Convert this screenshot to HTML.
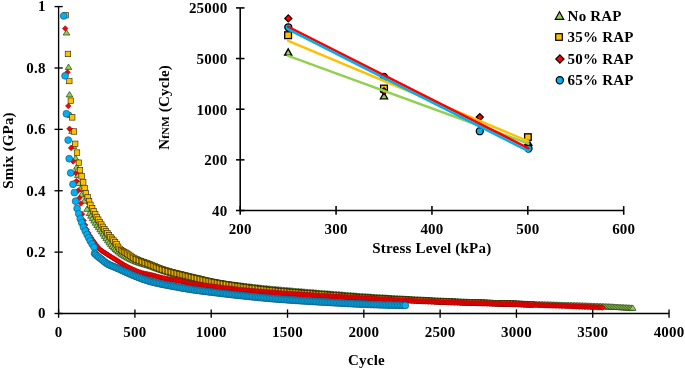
<!DOCTYPE html>
<html><head><meta charset="utf-8"><style>
html,body{margin:0;padding:0;background:#fff;width:685px;height:368px;overflow:hidden}
svg{display:block;will-change:transform}
text{font-family:"Liberation Serif",serif;font-weight:bold;letter-spacing:0.2px}
</style></head><body>
<svg width="685" height="368" viewBox="0 0 685 368">
<rect width="685" height="368" fill="#fff"/>
<g fill="#92D050" stroke="#263d14" stroke-width="0.7"><path d="M66.50 29.63L69.80 35.03L63.20 35.03Z"/><path d="M68.50 64.03L71.80 69.43L65.20 69.43Z"/><path d="M69.50 91.53L72.80 96.93L66.20 96.93Z"/><path d="M70.50 112.03L73.80 117.43L67.20 117.43Z"/><path d="M72.00 128.03L75.30 133.43L68.70 133.43Z"/><path d="M73.50 143.03L76.80 148.43L70.20 148.43Z"/><path d="M75.60 155.03L78.90 160.43L72.30 160.43Z"/><path d="M76.80 163.83L80.10 169.23L73.50 169.23Z"/><path d="M77.80 172.03L81.10 177.43L74.50 177.43Z"/><path d="M78.90 180.13L82.20 185.53L75.60 185.53Z"/><path d="M80.20 186.03L83.50 191.43L76.90 191.43Z"/><path d="M81.60 191.63L84.90 197.03L78.30 197.03Z"/><path d="M84.30 197.83L87.60 203.23L81.00 203.23Z"/><path d="M87.00 206.03L90.30 211.43L83.70 211.43Z"/><path d="M89.43 210.19L92.73 215.59L86.13 215.59Z"/><path d="M90.95 212.75L94.25 218.15L87.65 218.15Z"/><path d="M92.48 215.21L95.78 220.61L89.18 220.61Z"/><path d="M94.01 217.56L97.31 222.96L90.71 222.96Z"/><path d="M95.53 219.83L98.83 225.23L92.23 225.23Z"/><path d="M97.06 222.05L100.36 227.45L93.76 227.45Z"/><path d="M98.58 224.22L101.88 229.62L95.28 229.62Z"/><path d="M100.11 226.37L103.41 231.77L96.81 231.77Z"/><path d="M101.64 228.50L104.94 233.90L98.34 233.90Z"/><path d="M103.16 230.72L106.46 236.12L99.86 236.12Z"/><path d="M104.69 232.98L107.99 238.38L101.39 238.38Z"/><path d="M106.22 235.22L109.52 240.62L102.92 240.62Z"/><path d="M107.74 237.37L111.04 242.77L104.44 242.77Z"/><path d="M109.27 239.41L112.57 244.81L105.97 244.81Z"/><path d="M110.79 241.30L114.09 246.70L107.49 246.70Z"/><path d="M112.32 243.02L115.62 248.42L109.02 248.42Z"/><path d="M113.85 244.57L117.15 249.97L110.55 249.97Z"/><path d="M115.37 245.99L118.67 251.39L112.07 251.39Z"/><path d="M116.90 247.33L120.20 252.73L113.60 252.73Z"/><path d="M118.42 248.59L121.72 253.99L115.12 253.99Z"/><path d="M119.95 249.77L123.25 255.17L116.65 255.17Z"/><path d="M121.48 250.87L124.78 256.27L118.18 256.27Z"/><path d="M123.00 251.90L126.30 257.30L119.70 257.30Z"/><path d="M124.53 252.86L127.83 258.26L121.23 258.26Z"/><path d="M126.05 253.76L129.35 259.16L122.75 259.16Z"/><path d="M127.58 254.62L130.88 260.02L124.28 260.02Z"/><path d="M129.11 255.42L132.41 260.82L125.81 260.82Z"/><path d="M130.63 256.18L133.93 261.58L127.33 261.58Z"/><path d="M132.16 256.90L135.46 262.30L128.86 262.30Z"/><path d="M133.69 257.58L136.99 262.98L130.39 262.98Z"/><path d="M135.21 258.22L138.51 263.62L131.91 263.62Z"/><path d="M136.74 258.81L140.04 264.21L133.44 264.21Z"/><path d="M138.26 259.35L141.56 264.75L134.96 264.75Z"/><path d="M139.79 259.85L143.09 265.25L136.49 265.25Z"/><path d="M141.32 260.32L144.62 265.72L138.02 265.72Z"/><path d="M142.84 260.77L146.14 266.17L139.54 266.17Z"/><path d="M144.37 261.22L147.67 266.62L141.07 266.62Z"/><path d="M145.89 261.68L149.19 267.08L142.59 267.08Z"/><path d="M147.42 262.15L150.72 267.55L144.12 267.55Z"/><path d="M148.95 262.65L152.25 268.05L145.65 268.05Z"/><path d="M150.47 263.16L153.77 268.56L147.17 268.56Z"/><path d="M152.00 263.70L155.30 269.10L148.70 269.10Z"/><path d="M153.52 264.24L156.82 269.64L150.22 269.64Z"/><path d="M155.05 264.79L158.35 270.19L151.75 270.19Z"/><path d="M156.58 265.35L159.88 270.75L153.28 270.75Z"/><path d="M158.10 265.90L161.40 271.30L154.80 271.30Z"/><path d="M159.63 266.45L162.93 271.85L156.33 271.85Z"/><path d="M161.16 266.99L164.46 272.39L157.86 272.39Z"/><path d="M162.68 267.53L165.98 272.93L159.38 272.93Z"/><path d="M164.21 268.05L167.51 273.45L160.91 273.45Z"/><path d="M165.73 268.56L169.03 273.96L162.43 273.96Z"/><path d="M167.26 269.05L170.56 274.45L163.96 274.45Z"/><path d="M168.79 269.53L172.09 274.93L165.49 274.93Z"/><path d="M170.31 269.99L173.61 275.39L167.01 275.39Z"/><path d="M171.84 270.43L175.14 275.83L168.54 275.83Z"/><path d="M173.36 270.86L176.66 276.26L170.06 276.26Z"/><path d="M174.89 271.27L178.19 276.67L171.59 276.67Z"/><path d="M176.42 271.66L179.72 277.06L173.12 277.06Z"/><path d="M177.94 272.05L181.24 277.45L174.64 277.45Z"/><path d="M179.47 272.43L182.77 277.83L176.17 277.83Z"/><path d="M181.00 272.81L184.30 278.21L177.70 278.21Z"/><path d="M182.52 273.17L185.82 278.57L179.22 278.57Z"/><path d="M184.05 273.53L187.35 278.93L180.75 278.93Z"/><path d="M185.57 273.88L188.87 279.28L182.27 279.28Z"/><path d="M187.10 274.22L190.40 279.62L183.80 279.62Z"/><path d="M188.63 274.55L191.93 279.95L185.33 279.95Z"/><path d="M190.15 274.88L193.45 280.28L186.85 280.28Z"/><path d="M191.68 275.19L194.98 280.59L188.38 280.59Z"/><path d="M193.20 275.51L196.50 280.91L189.90 280.91Z"/><path d="M194.73 275.81L198.03 281.21L191.43 281.21Z"/><path d="M196.26 276.11L199.56 281.51L192.96 281.51Z"/><path d="M197.78 276.40L201.08 281.80L194.48 281.80Z"/><path d="M199.31 276.69L202.61 282.09L196.01 282.09Z"/><path d="M200.83 276.97L204.13 282.37L197.53 282.37Z"/><path d="M202.36 277.24L205.66 282.64L199.06 282.64Z"/><path d="M203.89 277.51L207.19 282.91L200.59 282.91Z"/><path d="M205.41 277.77L208.71 283.17L202.11 283.17Z"/><path d="M206.94 278.03L210.24 283.43L203.64 283.43Z"/><path d="M208.47 278.28L211.77 283.68L205.17 283.68Z"/><path d="M209.99 278.53L213.29 283.93L206.69 283.93Z"/><path d="M211.52 278.77L214.82 284.17L208.22 284.17Z"/><path d="M213.04 279.00L216.34 284.40L209.74 284.40Z"/><path d="M214.57 279.23L217.87 284.63L211.27 284.63Z"/><path d="M216.10 279.45L219.40 284.85L212.80 284.85Z"/><path d="M217.62 279.67L220.92 285.07L214.32 285.07Z"/><path d="M219.15 279.89L222.45 285.29L215.85 285.29Z"/><path d="M220.67 280.09L223.97 285.49L217.37 285.49Z"/><path d="M222.20 280.30L225.50 285.70L218.90 285.70Z"/><path d="M223.73 280.50L227.03 285.90L220.43 285.90Z"/><path d="M225.25 280.70L228.55 286.10L221.95 286.10Z"/><path d="M226.78 280.90L230.08 286.30L223.48 286.30Z"/><path d="M228.31 281.09L231.61 286.49L225.01 286.49Z"/><path d="M229.83 281.29L233.13 286.69L226.53 286.69Z"/><path d="M231.36 281.48L234.66 286.88L228.06 286.88Z"/><path d="M232.88 281.67L236.18 287.07L229.58 287.07Z"/><path d="M234.41 281.85L237.71 287.25L231.11 287.25Z"/><path d="M235.94 282.04L239.24 287.44L232.64 287.44Z"/><path d="M237.46 282.22L240.76 287.62L234.16 287.62Z"/><path d="M238.99 282.41L242.29 287.81L235.69 287.81Z"/><path d="M240.51 282.59L243.81 287.99L237.21 287.99Z"/><path d="M242.04 282.77L245.34 288.17L238.74 288.17Z"/><path d="M243.57 282.96L246.87 288.36L240.27 288.36Z"/><path d="M245.09 283.14L248.39 288.54L241.79 288.54Z"/><path d="M246.62 283.31L249.92 288.71L243.32 288.71Z"/><path d="M248.14 283.49L251.44 288.89L244.84 288.89Z"/><path d="M249.67 283.67L252.97 289.07L246.37 289.07Z"/><path d="M251.20 283.84L254.50 289.24L247.90 289.24Z"/><path d="M252.72 284.02L256.02 289.42L249.42 289.42Z"/><path d="M254.25 284.19L257.55 289.59L250.95 289.59Z"/><path d="M255.78 284.36L259.08 289.76L252.48 289.76Z"/><path d="M257.30 284.52L260.60 289.92L254.00 289.92Z"/><path d="M258.83 284.69L262.13 290.09L255.53 290.09Z"/><path d="M260.35 284.85L263.65 290.25L257.05 290.25Z"/><path d="M261.88 285.01L265.18 290.41L258.58 290.41Z"/><path d="M263.41 285.17L266.71 290.57L260.11 290.57Z"/><path d="M264.93 285.33L268.23 290.73L261.63 290.73Z"/><path d="M266.46 285.48L269.76 290.88L263.16 290.88Z"/><path d="M267.98 285.63L271.28 291.03L264.68 291.03Z"/><path d="M269.51 285.78L272.81 291.18L266.21 291.18Z"/><path d="M271.04 285.93L274.34 291.33L267.74 291.33Z"/><path d="M272.56 286.07L275.86 291.47L269.26 291.47Z"/><path d="M274.09 286.22L277.39 291.62L270.79 291.62Z"/><path d="M275.61 286.36L278.91 291.76L272.31 291.76Z"/><path d="M277.14 286.49L280.44 291.89L273.84 291.89Z"/><path d="M278.67 286.63L281.97 292.03L275.37 292.03Z"/><path d="M280.19 286.76L283.49 292.16L276.89 292.16Z"/><path d="M281.72 286.90L285.02 292.30L278.42 292.30Z"/><path d="M283.25 287.03L286.55 292.43L279.95 292.43Z"/><path d="M284.77 287.16L288.07 292.56L281.47 292.56Z"/><path d="M286.30 287.29L289.60 292.69L283.00 292.69Z"/><path d="M287.82 287.42L291.12 292.82L284.52 292.82Z"/><path d="M289.35 287.55L292.65 292.95L286.05 292.95Z"/><path d="M290.88 287.67L294.18 293.07L287.58 293.07Z"/><path d="M292.40 287.80L295.70 293.20L289.10 293.20Z"/><path d="M293.93 287.93L297.23 293.33L290.63 293.33Z"/><path d="M295.45 288.05L298.75 293.45L292.15 293.45Z"/><path d="M296.98 288.18L300.28 293.58L293.68 293.58Z"/><path d="M298.51 288.31L301.81 293.71L295.21 293.71Z"/><path d="M300.03 288.43L303.33 293.83L296.73 293.83Z"/><path d="M301.56 288.56L304.86 293.96L298.26 293.96Z"/><path d="M303.09 288.68L306.39 294.08L299.79 294.08Z"/><path d="M304.61 288.81L307.91 294.21L301.31 294.21Z"/><path d="M306.14 288.93L309.44 294.33L302.84 294.33Z"/><path d="M307.66 289.06L310.96 294.46L304.36 294.46Z"/><path d="M309.19 289.18L312.49 294.58L305.89 294.58Z"/><path d="M310.72 289.30L314.02 294.70L307.42 294.70Z"/><path d="M312.24 289.43L315.54 294.83L308.94 294.83Z"/><path d="M313.77 289.55L317.07 294.95L310.47 294.95Z"/><path d="M315.29 289.67L318.59 295.07L311.99 295.07Z"/><path d="M316.82 289.79L320.12 295.19L313.52 295.19Z"/><path d="M318.35 289.91L321.65 295.31L315.05 295.31Z"/><path d="M319.87 290.03L323.17 295.43L316.57 295.43Z"/><path d="M321.40 290.16L324.70 295.56L318.10 295.56Z"/><path d="M322.92 290.28L326.22 295.68L319.62 295.68Z"/><path d="M324.45 290.40L327.75 295.80L321.15 295.80Z"/><path d="M325.98 290.52L329.28 295.92L322.68 295.92Z"/><path d="M327.50 290.63L330.80 296.03L324.20 296.03Z"/><path d="M329.03 290.75L332.33 296.15L325.73 296.15Z"/><path d="M330.56 290.87L333.86 296.27L327.26 296.27Z"/><path d="M332.08 290.99L335.38 296.39L328.78 296.39Z"/><path d="M333.61 291.11L336.91 296.51L330.31 296.51Z"/><path d="M335.13 291.23L338.43 296.63L331.83 296.63Z"/><path d="M336.66 291.36L339.96 296.76L333.36 296.76Z"/><path d="M338.19 291.48L341.49 296.88L334.89 296.88Z"/><path d="M339.71 291.60L343.01 297.00L336.41 297.00Z"/><path d="M341.24 291.72L344.54 297.12L337.94 297.12Z"/><path d="M342.76 291.84L346.06 297.24L339.46 297.24Z"/><path d="M344.29 291.96L347.59 297.36L340.99 297.36Z"/><path d="M345.82 292.08L349.12 297.48L342.52 297.48Z"/><path d="M347.34 292.20L350.64 297.60L344.04 297.60Z"/><path d="M348.87 292.31L352.17 297.71L345.57 297.71Z"/><path d="M350.40 292.43L353.70 297.83L347.10 297.83Z"/><path d="M351.92 292.54L355.22 297.94L348.62 297.94Z"/><path d="M353.45 292.66L356.75 298.06L350.15 298.06Z"/><path d="M354.97 292.77L358.27 298.17L351.67 298.17Z"/><path d="M356.50 292.88L359.80 298.28L353.20 298.28Z"/><path d="M358.03 292.99L361.33 298.39L354.73 298.39Z"/><path d="M359.55 293.10L362.85 298.50L356.25 298.50Z"/><path d="M361.08 293.20L364.38 298.60L357.78 298.60Z"/><path d="M362.60 293.31L365.90 298.71L359.30 298.71Z"/><path d="M364.13 293.41L367.43 298.81L360.83 298.81Z"/><path d="M365.66 293.52L368.96 298.92L362.36 298.92Z"/><path d="M367.18 293.62L370.48 299.02L363.88 299.02Z"/><path d="M368.71 293.72L372.01 299.12L365.41 299.12Z"/><path d="M370.23 293.82L373.53 299.22L366.93 299.22Z"/><path d="M371.76 293.91L375.06 299.31L368.46 299.31Z"/><path d="M373.29 294.01L376.59 299.41L369.99 299.41Z"/><path d="M374.81 294.11L378.11 299.51L371.51 299.51Z"/><path d="M376.34 294.20L379.64 299.60L373.04 299.60Z"/><path d="M377.87 294.30L381.17 299.70L374.57 299.70Z"/><path d="M379.39 294.39L382.69 299.79L376.09 299.79Z"/><path d="M380.92 294.48L384.22 299.88L377.62 299.88Z"/><path d="M382.44 294.58L385.74 299.98L379.14 299.98Z"/><path d="M383.97 294.67L387.27 300.07L380.67 300.07Z"/><path d="M385.50 294.76L388.80 300.16L382.20 300.16Z"/><path d="M387.02 294.85L390.32 300.25L383.72 300.25Z"/><path d="M388.55 294.94L391.85 300.34L385.25 300.34Z"/><path d="M390.07 295.03L393.37 300.43L386.77 300.43Z"/><path d="M391.60 295.11L394.90 300.51L388.30 300.51Z"/><path d="M393.13 295.20L396.43 300.60L389.83 300.60Z"/><path d="M394.65 295.29L397.95 300.69L391.35 300.69Z"/><path d="M396.18 295.37L399.48 300.77L392.88 300.77Z"/><path d="M397.70 295.46L401.00 300.86L394.40 300.86Z"/><path d="M399.23 295.54L402.53 300.94L395.93 300.94Z"/><path d="M400.76 295.63L404.06 301.03L397.46 301.03Z"/><path d="M402.28 295.71L405.58 301.11L398.98 301.11Z"/><path d="M403.81 295.80L407.11 301.20L400.51 301.20Z"/><path d="M405.34 295.88L408.64 301.28L402.04 301.28Z"/><path d="M406.86 295.96L410.16 301.36L403.56 301.36Z"/><path d="M408.39 296.04L411.69 301.44L405.09 301.44Z"/><path d="M409.91 296.13L413.21 301.53L406.61 301.53Z"/><path d="M411.44 296.21L414.74 301.61L408.14 301.61Z"/><path d="M412.97 296.29L416.27 301.69L409.67 301.69Z"/><path d="M414.49 296.37L417.79 301.77L411.19 301.77Z"/><path d="M416.02 296.45L419.32 301.85L412.72 301.85Z"/><path d="M417.54 296.53L420.84 301.93L414.24 301.93Z"/><path d="M419.07 296.61L422.37 302.01L415.77 302.01Z"/><path d="M420.60 296.69L423.90 302.09L417.30 302.09Z"/><path d="M422.12 296.76L425.42 302.16L418.82 302.16Z"/><path d="M423.65 296.84L426.95 302.24L420.35 302.24Z"/><path d="M425.18 296.92L428.48 302.32L421.88 302.32Z"/><path d="M426.70 297.00L430.00 302.40L423.40 302.40Z"/><path d="M428.23 297.07L431.53 302.47L424.93 302.47Z"/><path d="M429.75 297.15L433.05 302.55L426.45 302.55Z"/><path d="M431.28 297.22L434.58 302.62L427.98 302.62Z"/><path d="M432.81 297.30L436.11 302.70L429.51 302.70Z"/><path d="M434.33 297.37L437.63 302.77L431.03 302.77Z"/><path d="M435.86 297.45L439.16 302.85L432.56 302.85Z"/><path d="M437.38 297.52L440.68 302.92L434.08 302.92Z"/><path d="M438.91 297.59L442.21 302.99L435.61 302.99Z"/><path d="M440.44 297.67L443.74 303.07L437.14 303.07Z"/><path d="M441.96 297.74L445.26 303.14L438.66 303.14Z"/><path d="M443.49 297.81L446.79 303.21L440.19 303.21Z"/><path d="M445.01 297.88L448.31 303.28L441.71 303.28Z"/><path d="M446.54 297.95L449.84 303.35L443.24 303.35Z"/><path d="M448.07 298.02L451.37 303.42L444.77 303.42Z"/><path d="M449.59 298.09L452.89 303.49L446.29 303.49Z"/><path d="M451.12 298.16L454.42 303.56L447.82 303.56Z"/><path d="M452.65 298.23L455.95 303.63L449.35 303.63Z"/><path d="M454.17 298.29L457.47 303.69L450.87 303.69Z"/><path d="M455.70 298.36L459.00 303.76L452.40 303.76Z"/><path d="M457.22 298.43L460.52 303.83L453.92 303.83Z"/><path d="M458.75 298.49L462.05 303.89L455.45 303.89Z"/><path d="M460.28 298.56L463.58 303.96L456.98 303.96Z"/><path d="M461.80 298.63L465.10 304.03L458.50 304.03Z"/><path d="M463.33 298.69L466.63 304.09L460.03 304.09Z"/><path d="M464.85 298.76L468.15 304.16L461.55 304.16Z"/><path d="M466.38 298.82L469.68 304.22L463.08 304.22Z"/><path d="M467.91 298.89L471.21 304.29L464.61 304.29Z"/><path d="M469.43 298.95L472.73 304.35L466.13 304.35Z"/><path d="M470.96 299.02L474.26 304.42L467.66 304.42Z"/><path d="M472.49 299.08L475.79 304.48L469.19 304.48Z"/><path d="M474.01 299.15L477.31 304.55L470.71 304.55Z"/><path d="M475.54 299.21L478.84 304.61L472.24 304.61Z"/><path d="M477.06 299.27L480.36 304.67L473.76 304.67Z"/><path d="M478.59 299.33L481.89 304.73L475.29 304.73Z"/><path d="M480.12 299.39L483.42 304.79L476.82 304.79Z"/><path d="M481.64 299.45L484.94 304.85L478.34 304.85Z"/><path d="M483.17 299.51L486.47 304.91L479.87 304.91Z"/><path d="M484.69 299.57L487.99 304.97L481.39 304.97Z"/><path d="M486.22 299.63L489.52 305.03L482.92 305.03Z"/><path d="M487.75 299.69L491.05 305.09L484.45 305.09Z"/><path d="M489.27 299.75L492.57 305.15L485.97 305.15Z"/><path d="M490.80 299.80L494.10 305.20L487.50 305.20Z"/><path d="M492.32 299.86L495.62 305.26L489.02 305.26Z"/><path d="M493.85 299.91L497.15 305.31L490.55 305.31Z"/><path d="M495.38 299.97L498.68 305.37L492.08 305.37Z"/><path d="M496.90 300.02L500.20 305.42L493.60 305.42Z"/><path d="M498.43 300.08L501.73 305.48L495.13 305.48Z"/><path d="M499.96 300.13L503.26 305.53L496.66 305.53Z"/><path d="M501.48 300.18L504.78 305.58L498.18 305.58Z"/><path d="M503.01 300.23L506.31 305.63L499.71 305.63Z"/><path d="M504.53 300.28L507.83 305.68L501.23 305.68Z"/><path d="M506.06 300.33L509.36 305.73L502.76 305.73Z"/><path d="M507.59 300.38L510.89 305.78L504.29 305.78Z"/><path d="M509.11 300.42L512.41 305.82L505.81 305.82Z"/><path d="M510.64 300.47L513.94 305.87L507.34 305.87Z"/><path d="M512.16 300.51L515.46 305.91L508.86 305.91Z"/><path d="M513.69 300.56L516.99 305.96L510.39 305.96Z"/><path d="M515.22 300.60L518.52 306.00L511.92 306.00Z"/><path d="M516.74 300.65L520.04 306.05L513.44 306.05Z"/><path d="M518.27 300.69L521.57 306.09L514.97 306.09Z"/><path d="M519.79 300.74L523.09 306.14L516.49 306.14Z"/><path d="M521.32 300.78L524.62 306.18L518.02 306.18Z"/><path d="M522.85 300.82L526.15 306.22L519.55 306.22Z"/><path d="M524.37 300.87L527.67 306.27L521.07 306.27Z"/><path d="M525.90 300.91L529.20 306.31L522.60 306.31Z"/><path d="M527.43 300.95L530.73 306.35L524.13 306.35Z"/><path d="M528.95 301.00L532.25 306.40L525.65 306.40Z"/><path d="M530.48 301.04L533.78 306.44L527.18 306.44Z"/><path d="M532.00 301.09L535.30 306.49L528.70 306.49Z"/><path d="M533.53 301.13L536.83 306.53L530.23 306.53Z"/><path d="M535.06 301.18L538.36 306.58L531.76 306.58Z"/><path d="M536.58 301.22L539.88 306.62L533.28 306.62Z"/><path d="M538.11 301.27L541.41 306.67L534.81 306.67Z"/><path d="M539.63 301.32L542.93 306.72L536.33 306.72Z"/><path d="M541.16 301.37L544.46 306.77L537.86 306.77Z"/><path d="M542.69 301.41L545.99 306.81L539.39 306.81Z"/><path d="M544.21 301.46L547.51 306.86L540.91 306.86Z"/><path d="M545.74 301.50L549.04 306.90L542.44 306.90Z"/><path d="M547.27 301.55L550.57 306.95L543.97 306.95Z"/><path d="M548.79 301.59L552.09 306.99L545.49 306.99Z"/><path d="M550.32 301.64L553.62 307.04L547.02 307.04Z"/><path d="M551.84 301.68L555.14 307.08L548.54 307.08Z"/><path d="M553.37 301.73L556.67 307.13L550.07 307.13Z"/><path d="M554.90 301.77L558.20 307.17L551.60 307.17Z"/><path d="M556.42 301.81L559.72 307.21L553.12 307.21Z"/><path d="M557.95 301.86L561.25 307.26L554.65 307.26Z"/><path d="M559.47 301.90L562.77 307.30L556.17 307.30Z"/><path d="M561.00 301.95L564.30 307.35L557.70 307.35Z"/><path d="M562.53 301.99L565.83 307.39L559.23 307.39Z"/><path d="M564.05 302.04L567.35 307.44L560.75 307.44Z"/><path d="M565.58 302.08L568.88 307.48L562.28 307.48Z"/><path d="M567.10 302.12L570.40 307.52L563.80 307.52Z"/><path d="M568.63 302.17L571.93 307.57L565.33 307.57Z"/><path d="M570.16 302.22L573.46 307.62L566.86 307.62Z"/><path d="M571.68 302.26L574.98 307.66L568.38 307.66Z"/><path d="M573.21 302.31L576.51 307.71L569.91 307.71Z"/><path d="M574.74 302.36L578.04 307.76L571.44 307.76Z"/><path d="M576.26 302.40L579.56 307.80L572.96 307.80Z"/><path d="M577.79 302.45L581.09 307.85L574.49 307.85Z"/><path d="M579.31 302.50L582.61 307.90L576.01 307.90Z"/><path d="M580.84 302.55L584.14 307.95L577.54 307.95Z"/><path d="M582.37 302.60L585.67 308.00L579.07 308.00Z"/><path d="M583.89 302.65L587.19 308.05L580.59 308.05Z"/><path d="M585.42 302.70L588.72 308.10L582.12 308.10Z"/><path d="M586.94 302.75L590.24 308.15L583.64 308.15Z"/><path d="M588.47 302.81L591.77 308.21L585.17 308.21Z"/><path d="M590.00 302.86L593.30 308.26L586.70 308.26Z"/><path d="M591.52 302.91L594.82 308.31L588.22 308.31Z"/><path d="M593.05 302.97L596.35 308.37L589.75 308.37Z"/><path d="M594.58 303.03L597.88 308.43L591.28 308.43Z"/><path d="M596.10 303.08L599.40 308.48L592.80 308.48Z"/><path d="M597.63 303.14L600.93 308.54L594.33 308.54Z"/><path d="M599.15 303.20L602.45 308.60L595.85 308.60Z"/><path d="M600.68 303.26L603.98 308.66L597.38 308.66Z"/><path d="M602.21 303.32L605.51 308.72L598.91 308.72Z"/><path d="M603.73 303.39L607.03 308.79L600.43 308.79Z"/><path d="M605.26 303.46L608.56 308.86L601.96 308.86Z"/><path d="M606.78 303.53L610.08 308.93L603.48 308.93Z"/><path d="M608.31 303.60L611.61 309.00L605.01 309.00Z"/><path d="M609.84 303.68L613.14 309.08L606.54 309.08Z"/><path d="M611.36 303.76L614.66 309.16L608.06 309.16Z"/><path d="M612.89 303.84L616.19 309.24L609.59 309.24Z"/><path d="M614.41 303.92L617.71 309.32L611.11 309.32Z"/><path d="M615.94 304.01L619.24 309.41L612.64 309.41Z"/><path d="M617.47 304.09L620.77 309.49L614.17 309.49Z"/><path d="M618.99 304.18L622.29 309.58L615.69 309.58Z"/><path d="M620.52 304.26L623.82 309.66L617.22 309.66Z"/><path d="M622.05 304.35L625.35 309.75L618.75 309.75Z"/><path d="M623.57 304.43L626.87 309.83L620.27 309.83Z"/><path d="M625.10 304.52L628.40 309.92L621.80 309.92Z"/><path d="M626.62 304.60L629.92 310.00L623.32 310.00Z"/><path d="M628.15 304.69L631.45 310.09L624.85 310.09Z"/><path d="M629.68 304.77L632.98 310.17L626.38 310.17Z"/><path d="M631.20 304.85L634.50 310.25L627.90 310.25Z"/><path d="M632.73 304.93L636.03 310.33L629.43 310.33Z"/></g><g fill="#FFC000" stroke="#2a2005" stroke-width="0.6"><rect x="63.05" y="12.45" width="5.5" height="5.5"/><rect x="65.20" y="51.20" width="5.5" height="5.5"/><rect x="66.55" y="78.25" width="5.5" height="5.5"/><rect x="68.05" y="97.95" width="5.5" height="5.5"/><rect x="69.45" y="114.65" width="5.5" height="5.5"/><rect x="71.25" y="128.75" width="5.5" height="5.5"/><rect x="72.45" y="141.05" width="5.5" height="5.5"/><rect x="74.25" y="149.85" width="5.5" height="5.5"/><rect x="76.15" y="159.95" width="5.5" height="5.5"/><rect x="77.25" y="167.45" width="5.5" height="5.5"/><rect x="78.85" y="173.55" width="5.5" height="5.5"/><rect x="80.45" y="179.65" width="5.5" height="5.5"/><rect x="81.85" y="185.35" width="5.5" height="5.5"/><rect x="83.15" y="190.55" width="5.5" height="5.5"/><rect x="84.95" y="194.65" width="5.5" height="5.5"/><rect x="86.35" y="198.65" width="5.5" height="5.5"/><rect x="87.65" y="202.05" width="5.5" height="5.5"/><rect x="89.45" y="205.45" width="5.5" height="5.5"/><rect x="90.95" y="208.50" width="5.5" height="5.5"/><rect x="92.48" y="211.44" width="5.5" height="5.5"/><rect x="94.00" y="214.23" width="5.5" height="5.5"/><rect x="95.53" y="216.88" width="5.5" height="5.5"/><rect x="97.06" y="219.39" width="5.5" height="5.5"/><rect x="98.58" y="221.79" width="5.5" height="5.5"/><rect x="100.11" y="224.09" width="5.5" height="5.5"/><rect x="101.63" y="226.30" width="5.5" height="5.5"/><rect x="103.16" y="228.42" width="5.5" height="5.5"/><rect x="104.69" y="230.47" width="5.5" height="5.5"/><rect x="106.21" y="232.45" width="5.5" height="5.5"/><rect x="107.74" y="234.35" width="5.5" height="5.5"/><rect x="109.26" y="236.11" width="5.5" height="5.5"/><rect x="110.79" y="237.82" width="5.5" height="5.5"/><rect x="112.32" y="239.60" width="5.5" height="5.5"/><rect x="113.84" y="241.57" width="5.5" height="5.5"/><rect x="115.37" y="244.00" width="5.5" height="5.5"/><rect x="116.89" y="246.09" width="5.5" height="5.5"/><rect x="118.42" y="247.40" width="5.5" height="5.5"/><rect x="119.95" y="248.37" width="5.5" height="5.5"/><rect x="121.47" y="249.20" width="5.5" height="5.5"/><rect x="123.00" y="250.01" width="5.5" height="5.5"/><rect x="124.53" y="250.93" width="5.5" height="5.5"/><rect x="126.05" y="251.95" width="5.5" height="5.5"/><rect x="127.58" y="253.02" width="5.5" height="5.5"/><rect x="129.10" y="254.07" width="5.5" height="5.5"/><rect x="130.63" y="255.04" width="5.5" height="5.5"/><rect x="132.16" y="255.90" width="5.5" height="5.5"/><rect x="133.68" y="256.65" width="5.5" height="5.5"/><rect x="135.21" y="257.32" width="5.5" height="5.5"/><rect x="136.73" y="257.94" width="5.5" height="5.5"/><rect x="138.26" y="258.51" width="5.5" height="5.5"/><rect x="139.79" y="259.07" width="5.5" height="5.5"/><rect x="141.31" y="259.60" width="5.5" height="5.5"/><rect x="142.84" y="260.14" width="5.5" height="5.5"/><rect x="144.37" y="260.68" width="5.5" height="5.5"/><rect x="145.89" y="261.24" width="5.5" height="5.5"/><rect x="147.42" y="261.81" width="5.5" height="5.5"/><rect x="148.94" y="262.42" width="5.5" height="5.5"/><rect x="150.47" y="263.04" width="5.5" height="5.5"/><rect x="152.00" y="263.68" width="5.5" height="5.5"/><rect x="153.52" y="264.31" width="5.5" height="5.5"/><rect x="155.05" y="264.93" width="5.5" height="5.5"/><rect x="156.57" y="265.54" width="5.5" height="5.5"/><rect x="158.10" y="266.12" width="5.5" height="5.5"/><rect x="159.63" y="266.68" width="5.5" height="5.5"/><rect x="161.15" y="267.20" width="5.5" height="5.5"/><rect x="162.68" y="267.68" width="5.5" height="5.5"/><rect x="164.20" y="268.13" width="5.5" height="5.5"/><rect x="165.73" y="268.56" width="5.5" height="5.5"/><rect x="167.26" y="268.97" width="5.5" height="5.5"/><rect x="168.78" y="269.36" width="5.5" height="5.5"/><rect x="170.31" y="269.75" width="5.5" height="5.5"/><rect x="171.84" y="270.12" width="5.5" height="5.5"/><rect x="173.36" y="270.50" width="5.5" height="5.5"/><rect x="174.89" y="270.87" width="5.5" height="5.5"/><rect x="176.41" y="271.24" width="5.5" height="5.5"/><rect x="177.94" y="271.62" width="5.5" height="5.5"/><rect x="179.47" y="272.00" width="5.5" height="5.5"/><rect x="180.99" y="272.37" width="5.5" height="5.5"/><rect x="182.52" y="272.74" width="5.5" height="5.5"/><rect x="184.04" y="273.10" width="5.5" height="5.5"/><rect x="185.57" y="273.47" width="5.5" height="5.5"/><rect x="187.10" y="273.83" width="5.5" height="5.5"/><rect x="188.62" y="274.19" width="5.5" height="5.5"/><rect x="190.15" y="274.55" width="5.5" height="5.5"/><rect x="191.68" y="274.91" width="5.5" height="5.5"/><rect x="193.20" y="275.28" width="5.5" height="5.5"/><rect x="194.73" y="275.64" width="5.5" height="5.5"/><rect x="196.25" y="276.01" width="5.5" height="5.5"/><rect x="197.78" y="276.39" width="5.5" height="5.5"/><rect x="199.31" y="276.75" width="5.5" height="5.5"/><rect x="200.83" y="277.12" width="5.5" height="5.5"/><rect x="202.36" y="277.47" width="5.5" height="5.5"/><rect x="203.88" y="277.82" width="5.5" height="5.5"/><rect x="205.41" y="278.16" width="5.5" height="5.5"/><rect x="206.94" y="278.48" width="5.5" height="5.5"/><rect x="208.46" y="278.80" width="5.5" height="5.5"/><rect x="209.99" y="279.10" width="5.5" height="5.5"/><rect x="211.51" y="279.40" width="5.5" height="5.5"/><rect x="213.04" y="279.70" width="5.5" height="5.5"/><rect x="214.57" y="279.98" width="5.5" height="5.5"/><rect x="216.09" y="280.26" width="5.5" height="5.5"/><rect x="217.62" y="280.54" width="5.5" height="5.5"/><rect x="219.15" y="280.80" width="5.5" height="5.5"/><rect x="220.67" y="281.07" width="5.5" height="5.5"/><rect x="222.20" y="281.33" width="5.5" height="5.5"/><rect x="223.72" y="281.58" width="5.5" height="5.5"/><rect x="225.25" y="281.83" width="5.5" height="5.5"/><rect x="226.78" y="282.07" width="5.5" height="5.5"/><rect x="228.30" y="282.31" width="5.5" height="5.5"/><rect x="229.83" y="282.55" width="5.5" height="5.5"/><rect x="231.35" y="282.78" width="5.5" height="5.5"/><rect x="232.88" y="283.01" width="5.5" height="5.5"/><rect x="234.41" y="283.24" width="5.5" height="5.5"/><rect x="235.93" y="283.46" width="5.5" height="5.5"/><rect x="237.46" y="283.68" width="5.5" height="5.5"/><rect x="238.98" y="283.90" width="5.5" height="5.5"/><rect x="240.51" y="284.11" width="5.5" height="5.5"/><rect x="242.04" y="284.32" width="5.5" height="5.5"/><rect x="243.56" y="284.53" width="5.5" height="5.5"/><rect x="245.09" y="284.73" width="5.5" height="5.5"/><rect x="246.62" y="284.94" width="5.5" height="5.5"/><rect x="248.14" y="285.14" width="5.5" height="5.5"/><rect x="249.67" y="285.33" width="5.5" height="5.5"/><rect x="251.19" y="285.52" width="5.5" height="5.5"/><rect x="252.72" y="285.71" width="5.5" height="5.5"/><rect x="254.25" y="285.90" width="5.5" height="5.5"/><rect x="255.77" y="286.08" width="5.5" height="5.5"/><rect x="257.30" y="286.26" width="5.5" height="5.5"/><rect x="258.82" y="286.44" width="5.5" height="5.5"/><rect x="260.35" y="286.61" width="5.5" height="5.5"/><rect x="261.88" y="286.78" width="5.5" height="5.5"/><rect x="263.40" y="286.95" width="5.5" height="5.5"/><rect x="264.93" y="287.11" width="5.5" height="5.5"/><rect x="266.46" y="287.27" width="5.5" height="5.5"/><rect x="267.98" y="287.42" width="5.5" height="5.5"/><rect x="269.51" y="287.58" width="5.5" height="5.5"/><rect x="271.03" y="287.72" width="5.5" height="5.5"/><rect x="272.56" y="287.87" width="5.5" height="5.5"/><rect x="274.09" y="288.01" width="5.5" height="5.5"/><rect x="275.61" y="288.15" width="5.5" height="5.5"/><rect x="277.14" y="288.29" width="5.5" height="5.5"/><rect x="278.66" y="288.42" width="5.5" height="5.5"/><rect x="280.19" y="288.55" width="5.5" height="5.5"/><rect x="281.72" y="288.69" width="5.5" height="5.5"/><rect x="283.24" y="288.81" width="5.5" height="5.5"/><rect x="284.77" y="288.94" width="5.5" height="5.5"/><rect x="286.29" y="289.07" width="5.5" height="5.5"/><rect x="287.82" y="289.19" width="5.5" height="5.5"/><rect x="289.35" y="289.32" width="5.5" height="5.5"/><rect x="290.87" y="289.44" width="5.5" height="5.5"/><rect x="292.40" y="289.56" width="5.5" height="5.5"/><rect x="293.93" y="289.69" width="5.5" height="5.5"/><rect x="295.45" y="289.81" width="5.5" height="5.5"/><rect x="296.98" y="289.93" width="5.5" height="5.5"/><rect x="298.50" y="290.05" width="5.5" height="5.5"/><rect x="300.03" y="290.17" width="5.5" height="5.5"/><rect x="301.56" y="290.28" width="5.5" height="5.5"/><rect x="303.08" y="290.40" width="5.5" height="5.5"/><rect x="304.61" y="290.51" width="5.5" height="5.5"/><rect x="306.13" y="290.62" width="5.5" height="5.5"/><rect x="307.66" y="290.73" width="5.5" height="5.5"/><rect x="309.19" y="290.84" width="5.5" height="5.5"/><rect x="310.71" y="290.95" width="5.5" height="5.5"/><rect x="312.24" y="291.06" width="5.5" height="5.5"/><rect x="313.77" y="291.17" width="5.5" height="5.5"/><rect x="315.29" y="291.28" width="5.5" height="5.5"/><rect x="316.82" y="291.39" width="5.5" height="5.5"/><rect x="318.34" y="291.50" width="5.5" height="5.5"/><rect x="319.87" y="291.61" width="5.5" height="5.5"/><rect x="321.40" y="291.72" width="5.5" height="5.5"/><rect x="322.92" y="291.83" width="5.5" height="5.5"/><rect x="324.45" y="291.94" width="5.5" height="5.5"/><rect x="325.97" y="292.06" width="5.5" height="5.5"/><rect x="327.50" y="292.17" width="5.5" height="5.5"/><rect x="329.03" y="292.28" width="5.5" height="5.5"/><rect x="330.55" y="292.40" width="5.5" height="5.5"/><rect x="332.08" y="292.52" width="5.5" height="5.5"/><rect x="333.60" y="292.64" width="5.5" height="5.5"/><rect x="335.13" y="292.77" width="5.5" height="5.5"/><rect x="336.66" y="292.89" width="5.5" height="5.5"/><rect x="338.18" y="293.01" width="5.5" height="5.5"/><rect x="339.71" y="293.14" width="5.5" height="5.5"/><rect x="341.24" y="293.26" width="5.5" height="5.5"/><rect x="342.76" y="293.38" width="5.5" height="5.5"/><rect x="344.29" y="293.50" width="5.5" height="5.5"/><rect x="345.81" y="293.62" width="5.5" height="5.5"/><rect x="347.34" y="293.74" width="5.5" height="5.5"/><rect x="348.87" y="293.85" width="5.5" height="5.5"/><rect x="350.39" y="293.97" width="5.5" height="5.5"/><rect x="351.92" y="294.08" width="5.5" height="5.5"/><rect x="353.44" y="294.19" width="5.5" height="5.5"/><rect x="354.97" y="294.30" width="5.5" height="5.5"/><rect x="356.50" y="294.40" width="5.5" height="5.5"/><rect x="358.02" y="294.50" width="5.5" height="5.5"/><rect x="359.55" y="294.60" width="5.5" height="5.5"/><rect x="361.07" y="294.70" width="5.5" height="5.5"/><rect x="362.60" y="294.79" width="5.5" height="5.5"/><rect x="364.13" y="294.89" width="5.5" height="5.5"/><rect x="365.65" y="294.98" width="5.5" height="5.5"/><rect x="367.18" y="295.07" width="5.5" height="5.5"/><rect x="368.71" y="295.16" width="5.5" height="5.5"/><rect x="370.23" y="295.25" width="5.5" height="5.5"/><rect x="371.76" y="295.33" width="5.5" height="5.5"/><rect x="373.28" y="295.42" width="5.5" height="5.5"/><rect x="374.81" y="295.50" width="5.5" height="5.5"/><rect x="376.34" y="295.59" width="5.5" height="5.5"/><rect x="377.86" y="295.67" width="5.5" height="5.5"/><rect x="379.39" y="295.75" width="5.5" height="5.5"/><rect x="380.91" y="295.83" width="5.5" height="5.5"/><rect x="382.44" y="295.91" width="5.5" height="5.5"/><rect x="383.97" y="295.99" width="5.5" height="5.5"/><rect x="385.49" y="296.07" width="5.5" height="5.5"/><rect x="387.02" y="296.15" width="5.5" height="5.5"/><rect x="388.55" y="296.23" width="5.5" height="5.5"/><rect x="390.07" y="296.31" width="5.5" height="5.5"/><rect x="391.60" y="296.38" width="5.5" height="5.5"/><rect x="393.12" y="296.46" width="5.5" height="5.5"/><rect x="394.65" y="296.53" width="5.5" height="5.5"/><rect x="396.18" y="296.61" width="5.5" height="5.5"/><rect x="397.70" y="296.69" width="5.5" height="5.5"/><rect x="399.23" y="296.76" width="5.5" height="5.5"/><rect x="400.75" y="296.83" width="5.5" height="5.5"/><rect x="402.28" y="296.91" width="5.5" height="5.5"/><rect x="403.81" y="296.98" width="5.5" height="5.5"/><rect x="405.33" y="297.06" width="5.5" height="5.5"/><rect x="406.86" y="297.13" width="5.5" height="5.5"/><rect x="408.38" y="297.20" width="5.5" height="5.5"/><rect x="409.91" y="297.28" width="5.5" height="5.5"/><rect x="411.44" y="297.35" width="5.5" height="5.5"/><rect x="412.96" y="297.43" width="5.5" height="5.5"/><rect x="414.49" y="297.50" width="5.5" height="5.5"/><rect x="416.02" y="297.57" width="5.5" height="5.5"/><rect x="417.54" y="297.65" width="5.5" height="5.5"/><rect x="419.07" y="297.72" width="5.5" height="5.5"/><rect x="420.59" y="297.79" width="5.5" height="5.5"/><rect x="422.12" y="297.87" width="5.5" height="5.5"/><rect x="423.65" y="297.94" width="5.5" height="5.5"/><rect x="425.17" y="298.01" width="5.5" height="5.5"/><rect x="426.70" y="298.08" width="5.5" height="5.5"/><rect x="428.22" y="298.15" width="5.5" height="5.5"/><rect x="429.75" y="298.22" width="5.5" height="5.5"/><rect x="431.28" y="298.29" width="5.5" height="5.5"/><rect x="432.80" y="298.36" width="5.5" height="5.5"/><rect x="434.33" y="298.42" width="5.5" height="5.5"/><rect x="435.86" y="298.49" width="5.5" height="5.5"/><rect x="437.38" y="298.56" width="5.5" height="5.5"/><rect x="438.91" y="298.62" width="5.5" height="5.5"/><rect x="440.43" y="298.69" width="5.5" height="5.5"/><rect x="441.96" y="298.75" width="5.5" height="5.5"/><rect x="443.49" y="298.81" width="5.5" height="5.5"/><rect x="445.01" y="298.87" width="5.5" height="5.5"/><rect x="446.54" y="298.93" width="5.5" height="5.5"/><rect x="448.06" y="298.99" width="5.5" height="5.5"/><rect x="449.59" y="299.05" width="5.5" height="5.5"/><rect x="451.12" y="299.11" width="5.5" height="5.5"/><rect x="452.64" y="299.16" width="5.5" height="5.5"/><rect x="454.17" y="299.22" width="5.5" height="5.5"/><rect x="455.69" y="299.27" width="5.5" height="5.5"/><rect x="457.22" y="299.33" width="5.5" height="5.5"/><rect x="458.75" y="299.38" width="5.5" height="5.5"/><rect x="460.27" y="299.43" width="5.5" height="5.5"/><rect x="461.80" y="299.48" width="5.5" height="5.5"/><rect x="463.33" y="299.53" width="5.5" height="5.5"/><rect x="464.85" y="299.57" width="5.5" height="5.5"/><rect x="466.38" y="299.62" width="5.5" height="5.5"/><rect x="467.90" y="299.67" width="5.5" height="5.5"/><rect x="469.43" y="299.71" width="5.5" height="5.5"/><rect x="470.96" y="299.76" width="5.5" height="5.5"/><rect x="472.48" y="299.81" width="5.5" height="5.5"/><rect x="474.01" y="299.85" width="5.5" height="5.5"/><rect x="475.53" y="299.90" width="5.5" height="5.5"/><rect x="477.06" y="299.94" width="5.5" height="5.5"/><rect x="478.59" y="299.99" width="5.5" height="5.5"/><rect x="480.11" y="300.03" width="5.5" height="5.5"/><rect x="481.64" y="300.08" width="5.5" height="5.5"/><rect x="483.16" y="300.12" width="5.5" height="5.5"/><rect x="484.69" y="300.17" width="5.5" height="5.5"/><rect x="486.22" y="300.21" width="5.5" height="5.5"/><rect x="487.74" y="300.26" width="5.5" height="5.5"/><rect x="489.27" y="300.30" width="5.5" height="5.5"/><rect x="490.80" y="300.35" width="5.5" height="5.5"/><rect x="492.32" y="300.40" width="5.5" height="5.5"/><rect x="493.85" y="300.44" width="5.5" height="5.5"/><rect x="495.37" y="300.49" width="5.5" height="5.5"/><rect x="496.90" y="300.54" width="5.5" height="5.5"/><rect x="498.43" y="300.59" width="5.5" height="5.5"/><rect x="499.95" y="300.64" width="5.5" height="5.5"/><rect x="501.48" y="300.69" width="5.5" height="5.5"/><rect x="503.00" y="300.74" width="5.5" height="5.5"/><rect x="504.53" y="300.79" width="5.5" height="5.5"/><rect x="506.06" y="300.84" width="5.5" height="5.5"/><rect x="507.58" y="300.89" width="5.5" height="5.5"/><rect x="509.11" y="300.94" width="5.5" height="5.5"/><rect x="510.64" y="300.99" width="5.5" height="5.5"/><rect x="512.16" y="301.04" width="5.5" height="5.5"/><rect x="513.69" y="301.09" width="5.5" height="5.5"/><rect x="515.21" y="301.14" width="5.5" height="5.5"/><rect x="516.74" y="301.20" width="5.5" height="5.5"/><rect x="518.27" y="301.25" width="5.5" height="5.5"/><rect x="519.79" y="301.30" width="5.5" height="5.5"/><rect x="521.32" y="301.35" width="5.5" height="5.5"/><rect x="522.84" y="301.40" width="5.5" height="5.5"/><rect x="524.37" y="301.45" width="5.5" height="5.5"/><rect x="525.90" y="301.50" width="5.5" height="5.5"/><rect x="527.42" y="301.56" width="5.5" height="5.5"/><rect x="528.95" y="301.61" width="5.5" height="5.5"/></g><g fill="#FF0000" stroke="#7a0000" stroke-width="0.5"><path d="M65.20 25.65L68.05 28.50L65.20 31.35L62.35 28.50Z"/><path d="M67.50 69.45L70.35 72.30L67.50 75.15L64.65 72.30Z"/><path d="M68.30 103.15L71.15 106.00L68.30 108.85L65.45 106.00Z"/><path d="M69.50 125.95L72.35 128.80L69.50 131.65L66.65 128.80Z"/><path d="M71.10 145.05L73.95 147.90L71.10 150.75L68.25 147.90Z"/><path d="M73.10 158.55L75.95 161.40L73.10 164.25L70.25 161.40Z"/><path d="M75.50 170.05L78.35 172.90L75.50 175.75L72.65 172.90Z"/><path d="M76.40 178.25L79.25 181.10L76.40 183.95L73.55 181.10Z"/><path d="M78.20 187.75L81.05 190.60L78.20 193.45L75.35 190.60Z"/><path d="M79.50 195.15L82.35 198.00L79.50 200.85L76.65 198.00Z"/><path d="M80.90 200.65L83.75 203.50L80.90 206.35L78.05 203.50Z"/><path d="M82.10 211.33L84.95 214.18L82.10 217.03L79.25 214.18Z"/><path d="M83.63 217.75L86.48 220.60L83.63 223.45L80.78 220.60Z"/><path d="M85.15 222.26L88.00 225.11L85.15 227.96L82.30 225.11Z"/><path d="M86.68 226.70L89.53 229.55L86.68 232.40L83.83 229.55Z"/><path d="M88.21 229.96L91.06 232.81L88.21 235.66L85.36 232.81Z"/><path d="M89.73 232.68L92.58 235.53L89.73 238.38L86.88 235.53Z"/><path d="M91.26 235.14L94.11 237.99L91.26 240.84L88.41 237.99Z"/><path d="M92.79 237.42L95.64 240.27L92.79 243.12L89.94 240.27Z"/><path d="M94.31 239.59L97.16 242.44L94.31 245.29L91.46 242.44Z"/><path d="M95.84 241.79L98.69 244.64L95.84 247.49L92.99 244.64Z"/><path d="M97.36 243.84L100.21 246.69L97.36 249.54L94.51 246.69Z"/><path d="M98.89 245.54L101.74 248.39L98.89 251.24L96.04 248.39Z"/><path d="M100.42 246.89L103.27 249.74L100.42 252.59L97.57 249.74Z"/><path d="M101.94 248.03L104.79 250.88L101.94 253.73L99.09 250.88Z"/><path d="M103.47 249.06L106.32 251.91L103.47 254.76L100.62 251.91Z"/><path d="M104.99 250.04L107.84 252.89L104.99 255.74L102.14 252.89Z"/><path d="M106.52 251.01L109.37 253.86L106.52 256.71L103.67 253.86Z"/><path d="M108.05 252.01L110.90 254.86L108.05 257.71L105.20 254.86Z"/><path d="M109.57 252.99L112.42 255.84L109.57 258.69L106.72 255.84Z"/><path d="M111.10 253.94L113.95 256.79L111.10 259.64L108.25 256.79Z"/><path d="M112.62 254.88L115.47 257.73L112.62 260.58L109.77 257.73Z"/><path d="M114.15 255.82L117.00 258.67L114.15 261.52L111.30 258.67Z"/><path d="M115.68 256.76L118.53 259.61L115.68 262.46L112.83 259.61Z"/><path d="M117.20 257.72L120.05 260.57L117.20 263.42L114.35 260.57Z"/><path d="M118.73 258.72L121.58 261.57L118.73 264.42L115.88 261.57Z"/><path d="M120.26 259.73L123.11 262.58L120.26 265.43L117.41 262.58Z"/><path d="M121.78 260.72L124.63 263.57L121.78 266.42L118.93 263.57Z"/><path d="M123.31 261.67L126.16 264.52L123.31 267.37L120.46 264.52Z"/><path d="M124.83 262.56L127.68 265.41L124.83 268.26L121.98 265.41Z"/><path d="M126.36 263.40L129.21 266.25L126.36 269.10L123.51 266.25Z"/><path d="M127.89 264.21L130.74 267.06L127.89 269.91L125.04 267.06Z"/><path d="M129.41 264.98L132.26 267.83L129.41 270.68L126.56 267.83Z"/><path d="M130.94 265.73L133.79 268.58L130.94 271.43L128.09 268.58Z"/><path d="M132.46 266.44L135.31 269.29L132.46 272.14L129.61 269.29Z"/><path d="M133.99 267.12L136.84 269.97L133.99 272.82L131.14 269.97Z"/><path d="M135.52 267.77L138.37 270.62L135.52 273.47L132.67 270.62Z"/><path d="M137.04 268.41L139.89 271.26L137.04 274.11L134.19 271.26Z"/><path d="M138.57 269.03L141.42 271.88L138.57 274.73L135.72 271.88Z"/><path d="M140.10 269.60L142.95 272.45L140.10 275.30L137.25 272.45Z"/><path d="M141.62 270.10L144.47 272.95L141.62 275.80L138.77 272.95Z"/><path d="M143.15 270.51L146.00 273.36L143.15 276.21L140.30 273.36Z"/><path d="M144.67 270.84L147.52 273.69L144.67 276.54L141.82 273.69Z"/><path d="M146.20 271.12L149.05 273.97L146.20 276.82L143.35 273.97Z"/><path d="M147.73 271.39L150.58 274.24L147.73 277.09L144.88 274.24Z"/><path d="M149.25 271.69L152.10 274.54L149.25 277.39L146.40 274.54Z"/><path d="M150.78 272.03L153.63 274.88L150.78 277.73L147.93 274.88Z"/><path d="M152.30 272.41L155.15 275.26L152.30 278.11L149.45 275.26Z"/><path d="M153.83 272.81L156.68 275.66L153.83 278.51L150.98 275.66Z"/><path d="M155.36 273.23L158.21 276.08L155.36 278.93L152.51 276.08Z"/><path d="M156.88 273.65L159.73 276.50L156.88 279.35L154.03 276.50Z"/><path d="M158.41 274.06L161.26 276.91L158.41 279.76L155.56 276.91Z"/><path d="M159.93 274.47L162.78 277.32L159.93 280.17L157.08 277.32Z"/><path d="M161.46 274.85L164.31 277.70L161.46 280.55L158.61 277.70Z"/><path d="M162.99 275.22L165.84 278.07L162.99 280.92L160.14 278.07Z"/><path d="M164.51 275.55L167.36 278.40L164.51 281.25L161.66 278.40Z"/><path d="M166.04 275.85L168.89 278.70L166.04 281.55L163.19 278.70Z"/><path d="M167.57 276.12L170.42 278.97L167.57 281.82L164.72 278.97Z"/><path d="M169.09 276.37L171.94 279.22L169.09 282.07L166.24 279.22Z"/><path d="M170.62 276.61L173.47 279.46L170.62 282.31L167.77 279.46Z"/><path d="M172.14 276.84L174.99 279.69L172.14 282.54L169.29 279.69Z"/><path d="M173.67 277.08L176.52 279.93L173.67 282.78L170.82 279.93Z"/><path d="M175.20 277.31L178.05 280.16L175.20 283.01L172.35 280.16Z"/><path d="M176.72 277.56L179.57 280.41L176.72 283.26L173.87 280.41Z"/><path d="M178.25 277.82L181.10 280.67L178.25 283.52L175.40 280.67Z"/><path d="M179.77 278.11L182.62 280.96L179.77 283.81L176.92 280.96Z"/><path d="M181.30 278.43L184.15 281.28L181.30 284.13L178.45 281.28Z"/><path d="M182.83 278.80L185.68 281.65L182.83 284.50L179.98 281.65Z"/><path d="M184.35 279.20L187.20 282.05L184.35 284.90L181.50 282.05Z"/><path d="M185.88 279.61L188.73 282.46L185.88 285.31L183.03 282.46Z"/><path d="M187.40 280.01L190.25 282.86L187.40 285.71L184.55 282.86Z"/><path d="M188.93 280.40L191.78 283.25L188.93 286.10L186.08 283.25Z"/><path d="M190.46 280.75L193.31 283.60L190.46 286.45L187.61 283.60Z"/><path d="M191.98 281.06L194.83 283.91L191.98 286.76L189.13 283.91Z"/><path d="M193.51 281.32L196.36 284.17L193.51 287.02L190.66 284.17Z"/><path d="M195.04 281.55L197.89 284.40L195.04 287.25L192.19 284.40Z"/><path d="M196.56 281.76L199.41 284.61L196.56 287.46L193.71 284.61Z"/><path d="M198.09 281.96L200.94 284.81L198.09 287.66L195.24 284.81Z"/><path d="M199.61 282.15L202.46 285.00L199.61 287.85L196.76 285.00Z"/><path d="M201.14 282.33L203.99 285.18L201.14 288.03L198.29 285.18Z"/><path d="M202.67 282.50L205.52 285.35L202.67 288.20L199.82 285.35Z"/><path d="M204.19 282.67L207.04 285.52L204.19 288.37L201.34 285.52Z"/><path d="M205.72 282.84L208.57 285.69L205.72 288.54L202.87 285.69Z"/><path d="M207.24 283.02L210.09 285.87L207.24 288.72L204.39 285.87Z"/><path d="M208.77 283.20L211.62 286.05L208.77 288.90L205.92 286.05Z"/><path d="M210.30 283.39L213.15 286.24L210.30 289.09L207.45 286.24Z"/><path d="M211.82 283.58L214.67 286.43L211.82 289.28L208.97 286.43Z"/><path d="M213.35 283.77L216.20 286.62L213.35 289.47L210.50 286.62Z"/><path d="M214.88 283.97L217.73 286.82L214.88 289.67L212.03 286.82Z"/><path d="M216.40 284.16L219.25 287.01L216.40 289.86L213.55 287.01Z"/><path d="M217.93 284.36L220.78 287.21L217.93 290.06L215.08 287.21Z"/><path d="M219.45 284.56L222.30 287.41L219.45 290.26L216.60 287.41Z"/><path d="M220.98 284.75L223.83 287.60L220.98 290.45L218.13 287.60Z"/><path d="M222.51 284.94L225.36 287.79L222.51 290.64L219.66 287.79Z"/><path d="M224.03 285.13L226.88 287.98L224.03 290.83L221.18 287.98Z"/><path d="M225.56 285.32L228.41 288.17L225.56 291.02L222.71 288.17Z"/><path d="M227.08 285.51L229.93 288.36L227.08 291.21L224.23 288.36Z"/><path d="M228.61 285.69L231.46 288.54L228.61 291.39L225.76 288.54Z"/><path d="M230.14 285.87L232.99 288.72L230.14 291.57L227.29 288.72Z"/><path d="M231.66 286.05L234.51 288.90L231.66 291.75L228.81 288.90Z"/><path d="M233.19 286.22L236.04 289.07L233.19 291.92L230.34 289.07Z"/><path d="M234.71 286.39L237.56 289.24L234.71 292.09L231.86 289.24Z"/><path d="M236.24 286.56L239.09 289.41L236.24 292.26L233.39 289.41Z"/><path d="M237.77 286.72L240.62 289.57L237.77 292.42L234.92 289.57Z"/><path d="M239.29 286.88L242.14 289.73L239.29 292.58L236.44 289.73Z"/><path d="M240.82 287.03L243.67 289.88L240.82 292.73L237.97 289.88Z"/><path d="M242.35 287.18L245.20 290.03L242.35 292.88L239.50 290.03Z"/><path d="M243.87 287.33L246.72 290.18L243.87 293.03L241.02 290.18Z"/><path d="M245.40 287.48L248.25 290.33L245.40 293.18L242.55 290.33Z"/><path d="M246.92 287.62L249.77 290.47L246.92 293.32L244.07 290.47Z"/><path d="M248.45 287.76L251.30 290.61L248.45 293.46L245.60 290.61Z"/><path d="M249.98 287.90L252.83 290.75L249.98 293.60L247.13 290.75Z"/><path d="M251.50 288.03L254.35 290.88L251.50 293.73L248.65 290.88Z"/><path d="M253.03 288.16L255.88 291.01L253.03 293.86L250.18 291.01Z"/><path d="M254.55 288.30L257.40 291.15L254.55 294.00L251.70 291.15Z"/><path d="M256.08 288.43L258.93 291.28L256.08 294.13L253.23 291.28Z"/><path d="M257.61 288.56L260.46 291.41L257.61 294.26L254.76 291.41Z"/><path d="M259.13 288.68L261.98 291.53L259.13 294.38L256.28 291.53Z"/><path d="M260.66 288.81L263.51 291.66L260.66 294.51L257.81 291.66Z"/><path d="M262.19 288.93L265.04 291.78L262.19 294.63L259.34 291.78Z"/><path d="M263.71 289.06L266.56 291.91L263.71 294.76L260.86 291.91Z"/><path d="M265.24 289.18L268.09 292.03L265.24 294.88L262.39 292.03Z"/><path d="M266.76 289.30L269.61 292.15L266.76 295.00L263.91 292.15Z"/><path d="M268.29 289.42L271.14 292.27L268.29 295.12L265.44 292.27Z"/><path d="M269.82 289.54L272.67 292.39L269.82 295.24L266.97 292.39Z"/><path d="M271.34 289.65L274.19 292.50L271.34 295.35L268.49 292.50Z"/><path d="M272.87 289.77L275.72 292.62L272.87 295.47L270.02 292.62Z"/><path d="M274.39 289.88L277.24 292.73L274.39 295.58L271.54 292.73Z"/><path d="M275.92 290.00L278.77 292.85L275.92 295.70L273.07 292.85Z"/><path d="M277.45 290.11L280.30 292.96L277.45 295.81L274.60 292.96Z"/><path d="M278.97 290.22L281.82 293.07L278.97 295.92L276.12 293.07Z"/><path d="M280.50 290.33L283.35 293.18L280.50 296.03L277.65 293.18Z"/><path d="M282.02 290.44L284.87 293.29L282.02 296.14L279.17 293.29Z"/><path d="M283.55 290.55L286.40 293.40L283.55 296.25L280.70 293.40Z"/><path d="M285.08 290.65L287.93 293.50L285.08 296.35L282.23 293.50Z"/><path d="M286.60 290.76L289.45 293.61L286.60 296.46L283.75 293.61Z"/><path d="M288.13 290.86L290.98 293.71L288.13 296.56L285.28 293.71Z"/><path d="M289.66 290.97L292.51 293.82L289.66 296.67L286.81 293.82Z"/><path d="M291.18 291.07L294.03 293.92L291.18 296.77L288.33 293.92Z"/><path d="M292.71 291.17L295.56 294.02L292.71 296.87L289.86 294.02Z"/><path d="M294.23 291.27L297.08 294.12L294.23 296.97L291.38 294.12Z"/><path d="M295.76 291.37L298.61 294.22L295.76 297.07L292.91 294.22Z"/><path d="M297.29 291.47L300.14 294.32L297.29 297.17L294.44 294.32Z"/><path d="M298.81 291.57L301.66 294.42L298.81 297.27L295.96 294.42Z"/><path d="M300.34 291.67L303.19 294.52L300.34 297.37L297.49 294.52Z"/><path d="M301.86 291.77L304.71 294.62L301.86 297.47L299.01 294.62Z"/><path d="M303.39 291.87L306.24 294.72L303.39 297.57L300.54 294.72Z"/><path d="M304.92 291.96L307.77 294.81L304.92 297.66L302.07 294.81Z"/><path d="M306.44 292.06L309.29 294.91L306.44 297.76L303.59 294.91Z"/><path d="M307.97 292.15L310.82 295.00L307.97 297.85L305.12 295.00Z"/><path d="M309.49 292.24L312.34 295.09L309.49 297.94L306.64 295.09Z"/><path d="M311.02 292.33L313.87 295.18L311.02 298.03L308.17 295.18Z"/><path d="M312.55 292.43L315.40 295.28L312.55 298.13L309.70 295.28Z"/><path d="M314.07 292.52L316.92 295.37L314.07 298.22L311.22 295.37Z"/><path d="M315.60 292.61L318.45 295.46L315.60 298.31L312.75 295.46Z"/><path d="M317.13 292.70L319.98 295.55L317.13 298.40L314.28 295.55Z"/><path d="M318.65 292.79L321.50 295.64L318.65 298.49L315.80 295.64Z"/><path d="M320.18 292.88L323.03 295.73L320.18 298.58L317.33 295.73Z"/><path d="M321.70 292.97L324.55 295.82L321.70 298.67L318.85 295.82Z"/><path d="M323.23 293.06L326.08 295.91L323.23 298.76L320.38 295.91Z"/><path d="M324.76 293.15L327.61 296.00L324.76 298.85L321.91 296.00Z"/><path d="M326.28 293.23L329.13 296.08L326.28 298.93L323.43 296.08Z"/><path d="M327.81 293.32L330.66 296.17L327.81 299.02L324.96 296.17Z"/><path d="M329.33 293.41L332.18 296.26L329.33 299.11L326.48 296.26Z"/><path d="M330.86 293.50L333.71 296.35L330.86 299.20L328.01 296.35Z"/><path d="M332.39 293.59L335.24 296.44L332.39 299.29L329.54 296.44Z"/><path d="M333.91 293.68L336.76 296.53L333.91 299.38L331.06 296.53Z"/><path d="M335.44 293.76L338.29 296.61L335.44 299.46L332.59 296.61Z"/><path d="M336.97 293.85L339.82 296.70L336.97 299.55L334.12 296.70Z"/><path d="M338.49 293.94L341.34 296.79L338.49 299.64L335.64 296.79Z"/><path d="M340.02 294.02L342.87 296.87L340.02 299.72L337.17 296.87Z"/><path d="M341.54 294.11L344.39 296.96L341.54 299.81L338.69 296.96Z"/><path d="M343.07 294.19L345.92 297.04L343.07 299.89L340.22 297.04Z"/><path d="M344.60 294.28L347.45 297.13L344.60 299.98L341.75 297.13Z"/><path d="M346.12 294.36L348.97 297.21L346.12 300.06L343.27 297.21Z"/><path d="M347.65 294.45L350.50 297.30L347.65 300.15L344.80 297.30Z"/><path d="M349.17 294.54L352.02 297.39L349.17 300.24L346.32 297.39Z"/><path d="M350.70 294.62L353.55 297.47L350.70 300.32L347.85 297.47Z"/><path d="M352.23 294.71L355.08 297.56L352.23 300.41L349.38 297.56Z"/><path d="M353.75 294.79L356.60 297.64L353.75 300.49L350.90 297.64Z"/><path d="M355.28 294.88L358.13 297.73L355.28 300.58L352.43 297.73Z"/><path d="M356.80 294.97L359.65 297.82L356.80 300.67L353.95 297.82Z"/><path d="M358.33 295.05L361.18 297.90L358.33 300.75L355.48 297.90Z"/><path d="M359.86 295.14L362.71 297.99L359.86 300.84L357.01 297.99Z"/><path d="M361.38 295.23L364.23 298.08L361.38 300.93L358.53 298.08Z"/><path d="M362.91 295.32L365.76 298.17L362.91 301.02L360.06 298.17Z"/><path d="M364.44 295.41L367.29 298.26L364.44 301.11L361.59 298.26Z"/><path d="M365.96 295.50L368.81 298.35L365.96 301.20L363.11 298.35Z"/><path d="M367.49 295.59L370.34 298.44L367.49 301.29L364.64 298.44Z"/><path d="M369.01 295.68L371.86 298.53L369.01 301.38L366.16 298.53Z"/><path d="M370.54 295.78L373.39 298.63L370.54 301.48L367.69 298.63Z"/><path d="M372.07 295.87L374.92 298.72L372.07 301.57L369.22 298.72Z"/><path d="M373.59 295.96L376.44 298.81L373.59 301.66L370.74 298.81Z"/><path d="M375.12 296.05L377.97 298.90L375.12 301.75L372.27 298.90Z"/><path d="M376.64 296.15L379.49 299.00L376.64 301.85L373.79 299.00Z"/><path d="M378.17 296.24L381.02 299.09L378.17 301.94L375.32 299.09Z"/><path d="M379.70 296.33L382.55 299.18L379.70 302.03L376.85 299.18Z"/><path d="M381.22 296.42L384.07 299.27L381.22 302.12L378.37 299.27Z"/><path d="M382.75 296.51L385.60 299.36L382.75 302.21L379.90 299.36Z"/><path d="M384.28 296.60L387.13 299.45L384.28 302.30L381.43 299.45Z"/><path d="M385.80 296.69L388.65 299.54L385.80 302.39L382.95 299.54Z"/><path d="M387.33 296.77L390.18 299.62L387.33 302.47L384.48 299.62Z"/><path d="M388.85 296.86L391.70 299.71L388.85 302.56L386.00 299.71Z"/><path d="M390.38 296.94L393.23 299.79L390.38 302.64L387.53 299.79Z"/><path d="M391.91 297.03L394.76 299.88L391.91 302.73L389.06 299.88Z"/><path d="M393.43 297.11L396.28 299.96L393.43 302.81L390.58 299.96Z"/><path d="M394.96 297.19L397.81 300.04L394.96 302.89L392.11 300.04Z"/><path d="M396.48 297.27L399.33 300.12L396.48 302.97L393.63 300.12Z"/><path d="M398.01 297.35L400.86 300.20L398.01 303.05L395.16 300.20Z"/><path d="M399.54 297.43L402.39 300.28L399.54 303.13L396.69 300.28Z"/><path d="M401.06 297.50L403.91 300.35L401.06 303.20L398.21 300.35Z"/><path d="M402.59 297.58L405.44 300.43L402.59 303.28L399.74 300.43Z"/><path d="M404.11 297.65L406.96 300.50L404.11 303.35L401.26 300.50Z"/><path d="M405.64 297.72L408.49 300.57L405.64 303.42L402.79 300.57Z"/><path d="M407.17 297.80L410.02 300.65L407.17 303.50L404.32 300.65Z"/><path d="M408.69 297.87L411.54 300.72L408.69 303.57L405.84 300.72Z"/><path d="M410.22 297.94L413.07 300.79L410.22 303.64L407.37 300.79Z"/><path d="M411.75 298.01L414.60 300.86L411.75 303.71L408.90 300.86Z"/><path d="M413.27 298.08L416.12 300.93L413.27 303.78L410.42 300.93Z"/><path d="M414.80 298.15L417.65 301.00L414.80 303.85L411.95 301.00Z"/><path d="M416.32 298.21L419.17 301.06L416.32 303.91L413.47 301.06Z"/><path d="M417.85 298.28L420.70 301.13L417.85 303.98L415.00 301.13Z"/><path d="M419.38 298.35L422.23 301.20L419.38 304.05L416.53 301.20Z"/><path d="M420.90 298.41L423.75 301.26L420.90 304.11L418.05 301.26Z"/><path d="M422.43 298.48L425.28 301.33L422.43 304.18L419.58 301.33Z"/><path d="M423.95 298.54L426.80 301.39L423.95 304.24L421.10 301.39Z"/><path d="M425.48 298.61L428.33 301.46L425.48 304.31L422.63 301.46Z"/><path d="M427.01 298.67L429.86 301.52L427.01 304.37L424.16 301.52Z"/><path d="M428.53 298.73L431.38 301.58L428.53 304.43L425.68 301.58Z"/><path d="M430.06 298.80L432.91 301.65L430.06 304.50L427.21 301.65Z"/><path d="M431.58 298.86L434.43 301.71L431.58 304.56L428.73 301.71Z"/><path d="M433.11 298.92L435.96 301.77L433.11 304.62L430.26 301.77Z"/><path d="M434.64 298.98L437.49 301.83L434.64 304.68L431.79 301.83Z"/><path d="M436.16 299.04L439.01 301.89L436.16 304.74L433.31 301.89Z"/><path d="M437.69 299.10L440.54 301.95L437.69 304.80L434.84 301.95Z"/><path d="M439.22 299.16L442.07 302.01L439.22 304.86L436.37 302.01Z"/><path d="M440.74 299.22L443.59 302.07L440.74 304.92L437.89 302.07Z"/><path d="M442.27 299.28L445.12 302.13L442.27 304.98L439.42 302.13Z"/><path d="M443.79 299.34L446.64 302.19L443.79 305.04L440.94 302.19Z"/><path d="M445.32 299.39L448.17 302.24L445.32 305.09L442.47 302.24Z"/><path d="M446.85 299.45L449.70 302.30L446.85 305.15L444.00 302.30Z"/><path d="M448.37 299.51L451.22 302.36L448.37 305.21L445.52 302.36Z"/><path d="M449.90 299.56L452.75 302.41L449.90 305.26L447.05 302.41Z"/><path d="M451.42 299.62L454.27 302.47L451.42 305.32L448.57 302.47Z"/><path d="M452.95 299.68L455.80 302.53L452.95 305.38L450.10 302.53Z"/><path d="M454.48 299.73L457.33 302.58L454.48 305.43L451.63 302.58Z"/><path d="M456.00 299.79L458.85 302.64L456.00 305.49L453.15 302.64Z"/><path d="M457.53 299.84L460.38 302.69L457.53 305.54L454.68 302.69Z"/><path d="M459.06 299.89L461.91 302.74L459.06 305.59L456.21 302.74Z"/><path d="M460.58 299.94L463.43 302.79L460.58 305.64L457.73 302.79Z"/><path d="M462.11 299.99L464.96 302.84L462.11 305.69L459.26 302.84Z"/><path d="M463.63 300.04L466.48 302.89L463.63 305.74L460.78 302.89Z"/><path d="M465.16 300.09L468.01 302.94L465.16 305.79L462.31 302.94Z"/><path d="M466.69 300.14L469.54 302.99L466.69 305.84L463.84 302.99Z"/><path d="M468.21 300.19L471.06 303.04L468.21 305.89L465.36 303.04Z"/><path d="M469.74 300.23L472.59 303.08L469.74 305.93L466.89 303.08Z"/><path d="M471.26 300.28L474.11 303.13L471.26 305.98L468.41 303.13Z"/><path d="M472.79 300.32L475.64 303.17L472.79 306.02L469.94 303.17Z"/><path d="M474.32 300.37L477.17 303.22L474.32 306.07L471.47 303.22Z"/><path d="M475.84 300.41L478.69 303.26L475.84 306.11L472.99 303.26Z"/><path d="M477.37 300.46L480.22 303.31L477.37 306.16L474.52 303.31Z"/><path d="M478.89 300.50L481.74 303.35L478.89 306.20L476.04 303.35Z"/><path d="M480.42 300.54L483.27 303.39L480.42 306.24L477.57 303.39Z"/><path d="M481.95 300.59L484.80 303.44L481.95 306.29L479.10 303.44Z"/><path d="M483.47 300.63L486.32 303.48L483.47 306.33L480.62 303.48Z"/><path d="M485.00 300.67L487.85 303.52L485.00 306.37L482.15 303.52Z"/><path d="M486.53 300.71L489.38 303.56L486.53 306.41L483.68 303.56Z"/><path d="M488.05 300.75L490.90 303.60L488.05 306.45L485.20 303.60Z"/><path d="M489.58 300.80L492.43 303.65L489.58 306.50L486.73 303.65Z"/><path d="M491.10 300.84L493.95 303.69L491.10 306.54L488.25 303.69Z"/><path d="M492.63 300.88L495.48 303.73L492.63 306.58L489.78 303.73Z"/><path d="M494.16 300.92L497.01 303.77L494.16 306.62L491.31 303.77Z"/><path d="M495.68 300.96L498.53 303.81L495.68 306.66L492.83 303.81Z"/><path d="M497.21 301.00L500.06 303.85L497.21 306.70L494.36 303.85Z"/><path d="M498.73 301.04L501.58 303.89L498.73 306.74L495.88 303.89Z"/><path d="M500.26 301.09L503.11 303.94L500.26 306.79L497.41 303.94Z"/><path d="M501.79 301.13L504.64 303.98L501.79 306.83L498.94 303.98Z"/><path d="M503.31 301.17L506.16 304.02L503.31 306.87L500.46 304.02Z"/><path d="M504.84 301.21L507.69 304.06L504.84 306.91L501.99 304.06Z"/><path d="M506.37 301.25L509.22 304.10L506.37 306.95L503.52 304.10Z"/><path d="M507.89 301.30L510.74 304.15L507.89 307.00L505.04 304.15Z"/><path d="M509.42 301.34L512.27 304.19L509.42 307.04L506.57 304.19Z"/><path d="M510.94 301.38L513.79 304.23L510.94 307.08L508.09 304.23Z"/><path d="M512.47 301.42L515.32 304.27L512.47 307.12L509.62 304.27Z"/><path d="M514.00 301.47L516.85 304.32L514.00 307.17L511.15 304.32Z"/><path d="M515.52 301.51L518.37 304.36L515.52 307.21L512.67 304.36Z"/><path d="M517.05 301.55L519.90 304.40L517.05 307.25L514.20 304.40Z"/><path d="M518.57 301.60L521.42 304.45L518.57 307.30L515.72 304.45Z"/><path d="M520.10 301.64L522.95 304.49L520.10 307.34L517.25 304.49Z"/><path d="M521.63 301.69L524.48 304.54L521.63 307.39L518.78 304.54Z"/><path d="M523.15 301.73L526.00 304.58L523.15 307.43L520.30 304.58Z"/><path d="M524.68 301.78L527.53 304.63L524.68 307.48L521.83 304.63Z"/><path d="M526.20 301.82L529.05 304.67L526.20 307.52L523.35 304.67Z"/><path d="M527.73 301.87L530.58 304.72L527.73 307.57L524.88 304.72Z"/><path d="M529.26 301.91L532.11 304.76L529.26 307.61L526.41 304.76Z"/><path d="M530.78 301.96L533.63 304.81L530.78 307.66L527.93 304.81Z"/><path d="M532.31 302.01L535.16 304.86L532.31 307.71L529.46 304.86Z"/><path d="M533.84 302.05L536.69 304.90L533.84 307.75L530.99 304.90Z"/><path d="M535.36 302.10L538.21 304.95L535.36 307.80L532.51 304.95Z"/><path d="M536.89 302.15L539.74 305.00L536.89 307.85L534.04 305.00Z"/><path d="M538.41 302.20L541.26 305.05L538.41 307.90L535.56 305.05Z"/><path d="M539.94 302.25L542.79 305.10L539.94 307.95L537.09 305.10Z"/><path d="M541.47 302.30L544.32 305.15L541.47 308.00L538.62 305.15Z"/><path d="M542.99 302.35L545.84 305.20L542.99 308.05L540.14 305.20Z"/><path d="M544.52 302.40L547.37 305.25L544.52 308.10L541.67 305.25Z"/><path d="M546.04 302.45L548.89 305.30L546.04 308.15L543.19 305.30Z"/><path d="M547.57 302.51L550.42 305.36L547.57 308.21L544.72 305.36Z"/><path d="M549.10 302.56L551.95 305.41L549.10 308.26L546.25 305.41Z"/><path d="M550.62 302.62L553.47 305.47L550.62 308.32L547.77 305.47Z"/><path d="M552.15 302.68L555.00 305.53L552.15 308.38L549.30 305.53Z"/><path d="M553.67 302.73L556.52 305.58L553.67 308.43L550.82 305.58Z"/><path d="M555.20 302.79L558.05 305.64L555.20 308.49L552.35 305.64Z"/><path d="M556.73 302.85L559.58 305.70L556.73 308.55L553.88 305.70Z"/><path d="M558.25 302.91L561.10 305.76L558.25 308.61L555.40 305.76Z"/><path d="M559.78 302.97L562.63 305.82L559.78 308.67L556.93 305.82Z"/><path d="M561.31 303.03L564.16 305.88L561.31 308.73L558.46 305.88Z"/><path d="M562.83 303.09L565.68 305.94L562.83 308.79L559.98 305.94Z"/><path d="M564.36 303.15L567.21 306.00L564.36 308.85L561.51 306.00Z"/><path d="M565.88 303.21L568.73 306.06L565.88 308.91L563.03 306.06Z"/><path d="M567.41 303.27L570.26 306.12L567.41 308.97L564.56 306.12Z"/><path d="M568.94 303.33L571.79 306.18L568.94 309.03L566.09 306.18Z"/><path d="M570.46 303.39L573.31 306.24L570.46 309.09L567.61 306.24Z"/><path d="M571.99 303.45L574.84 306.30L571.99 309.15L569.14 306.30Z"/><path d="M573.51 303.52L576.36 306.37L573.51 309.22L570.66 306.37Z"/><path d="M575.04 303.58L577.89 306.43L575.04 309.28L572.19 306.43Z"/><path d="M576.57 303.64L579.42 306.49L576.57 309.34L573.72 306.49Z"/><path d="M578.09 303.70L580.94 306.55L578.09 309.40L575.24 306.55Z"/><path d="M579.62 303.76L582.47 306.61L579.62 309.46L576.77 306.61Z"/><path d="M581.15 303.82L584.00 306.67L581.15 309.52L578.30 306.67Z"/><path d="M582.67 303.88L585.52 306.73L582.67 309.58L579.82 306.73Z"/><path d="M584.20 303.94L587.05 306.79L584.20 309.64L581.35 306.79Z"/><path d="M585.72 304.00L588.57 306.85L585.72 309.70L582.87 306.85Z"/><path d="M587.25 304.06L590.10 306.91L587.25 309.76L584.40 306.91Z"/><path d="M588.78 304.12L591.63 306.97L588.78 309.82L585.93 306.97Z"/><path d="M590.30 304.18L593.15 307.03L590.30 309.88L587.45 307.03Z"/><path d="M591.83 304.24L594.68 307.09L591.83 309.94L588.98 307.09Z"/><path d="M593.35 304.30L596.20 307.15L593.35 310.00L590.50 307.15Z"/><path d="M594.88 304.36L597.73 307.21L594.88 310.06L592.03 307.21Z"/><path d="M596.41 304.41L599.26 307.26L596.41 310.11L593.56 307.26Z"/><path d="M597.93 304.47L600.78 307.32L597.93 310.17L595.08 307.32Z"/><path d="M599.46 304.53L602.31 307.38L599.46 310.23L596.61 307.38Z"/><path d="M600.98 304.58L603.83 307.43L600.98 310.28L598.13 307.43Z"/><path d="M602.51 304.64L605.36 307.49L602.51 310.34L599.66 307.49Z"/></g><g fill="#00B0F0" stroke="#1a4a6a" stroke-width="0.6"><circle cx="63.70" cy="15.90" r="3.45"/><circle cx="65.05" cy="75.85" r="3.45"/><circle cx="66.40" cy="113.80" r="3.45"/><circle cx="68.20" cy="140.10" r="3.45"/><circle cx="69.20" cy="158.70" r="3.45"/><circle cx="70.70" cy="172.90" r="3.45"/><circle cx="73.00" cy="184.30" r="3.45"/><circle cx="74.40" cy="192.60" r="3.45"/><circle cx="75.60" cy="201.20" r="3.45"/><circle cx="77.10" cy="208.40" r="3.45"/><circle cx="78.75" cy="213.75" r="3.45"/><circle cx="80.25" cy="218.75" r="3.45"/><circle cx="81.75" cy="222.75" r="3.45"/><circle cx="83.40" cy="227.10" r="3.45"/><circle cx="85.25" cy="230.90" r="3.45"/><circle cx="87.10" cy="234.60" r="3.45"/><circle cx="88.75" cy="237.75" r="3.45"/><circle cx="90.25" cy="240.90" r="3.45"/><circle cx="92.10" cy="244.00" r="3.45"/><circle cx="94.00" cy="247.10" r="3.45"/><circle cx="94.60" cy="253.30" r="3.45"/><circle cx="95.53" cy="254.28" r="3.45"/><circle cx="97.06" cy="255.75" r="3.45"/><circle cx="98.58" cy="257.07" r="3.45"/><circle cx="100.11" cy="258.20" r="3.45"/><circle cx="101.64" cy="259.33" r="3.45"/><circle cx="103.16" cy="260.68" r="3.45"/><circle cx="104.69" cy="261.99" r="3.45"/><circle cx="106.22" cy="263.10" r="3.45"/><circle cx="107.74" cy="264.05" r="3.45"/><circle cx="109.27" cy="264.84" r="3.45"/><circle cx="110.79" cy="265.51" r="3.45"/><circle cx="112.32" cy="266.11" r="3.45"/><circle cx="113.85" cy="266.70" r="3.45"/><circle cx="115.37" cy="267.31" r="3.45"/><circle cx="116.90" cy="267.96" r="3.45"/><circle cx="118.42" cy="268.66" r="3.45"/><circle cx="119.95" cy="269.37" r="3.45"/><circle cx="121.48" cy="270.08" r="3.45"/><circle cx="123.00" cy="270.79" r="3.45"/><circle cx="124.53" cy="271.49" r="3.45"/><circle cx="126.05" cy="272.17" r="3.45"/><circle cx="127.58" cy="272.85" r="3.45"/><circle cx="129.11" cy="273.52" r="3.45"/><circle cx="130.63" cy="274.19" r="3.45"/><circle cx="132.16" cy="274.84" r="3.45"/><circle cx="133.69" cy="275.47" r="3.45"/><circle cx="135.21" cy="276.08" r="3.45"/><circle cx="136.74" cy="276.69" r="3.45"/><circle cx="138.26" cy="277.30" r="3.45"/><circle cx="139.79" cy="277.89" r="3.45"/><circle cx="141.32" cy="278.47" r="3.45"/><circle cx="142.84" cy="279.03" r="3.45"/><circle cx="144.37" cy="279.57" r="3.45"/><circle cx="145.89" cy="280.08" r="3.45"/><circle cx="147.42" cy="280.56" r="3.45"/><circle cx="148.95" cy="281.01" r="3.45"/><circle cx="150.47" cy="281.44" r="3.45"/><circle cx="152.00" cy="281.84" r="3.45"/><circle cx="153.52" cy="282.22" r="3.45"/><circle cx="155.05" cy="282.58" r="3.45"/><circle cx="156.58" cy="282.94" r="3.45"/><circle cx="158.10" cy="283.28" r="3.45"/><circle cx="159.63" cy="283.62" r="3.45"/><circle cx="161.16" cy="283.95" r="3.45"/><circle cx="162.68" cy="284.26" r="3.45"/><circle cx="164.21" cy="284.57" r="3.45"/><circle cx="165.73" cy="284.86" r="3.45"/><circle cx="167.26" cy="285.15" r="3.45"/><circle cx="168.79" cy="285.44" r="3.45"/><circle cx="170.31" cy="285.72" r="3.45"/><circle cx="171.84" cy="286.00" r="3.45"/><circle cx="173.36" cy="286.28" r="3.45"/><circle cx="174.89" cy="286.56" r="3.45"/><circle cx="176.42" cy="286.85" r="3.45"/><circle cx="177.94" cy="287.13" r="3.45"/><circle cx="179.47" cy="287.41" r="3.45"/><circle cx="181.00" cy="287.69" r="3.45"/><circle cx="182.52" cy="287.96" r="3.45"/><circle cx="184.05" cy="288.23" r="3.45"/><circle cx="185.57" cy="288.49" r="3.45"/><circle cx="187.10" cy="288.75" r="3.45"/><circle cx="188.63" cy="289.00" r="3.45"/><circle cx="190.15" cy="289.24" r="3.45"/><circle cx="191.68" cy="289.48" r="3.45"/><circle cx="193.20" cy="289.70" r="3.45"/><circle cx="194.73" cy="289.92" r="3.45"/><circle cx="196.26" cy="290.14" r="3.45"/><circle cx="197.78" cy="290.34" r="3.45"/><circle cx="199.31" cy="290.54" r="3.45"/><circle cx="200.83" cy="290.74" r="3.45"/><circle cx="202.36" cy="290.94" r="3.45"/><circle cx="203.89" cy="291.13" r="3.45"/><circle cx="205.41" cy="291.32" r="3.45"/><circle cx="206.94" cy="291.51" r="3.45"/><circle cx="208.47" cy="291.71" r="3.45"/><circle cx="209.99" cy="291.90" r="3.45"/><circle cx="211.52" cy="292.09" r="3.45"/><circle cx="213.04" cy="292.28" r="3.45"/><circle cx="214.57" cy="292.47" r="3.45"/><circle cx="216.10" cy="292.66" r="3.45"/><circle cx="217.62" cy="292.85" r="3.45"/><circle cx="219.15" cy="293.03" r="3.45"/><circle cx="220.67" cy="293.21" r="3.45"/><circle cx="222.20" cy="293.40" r="3.45"/><circle cx="223.73" cy="293.57" r="3.45"/><circle cx="225.25" cy="293.75" r="3.45"/><circle cx="226.78" cy="293.93" r="3.45"/><circle cx="228.31" cy="294.11" r="3.45"/><circle cx="229.83" cy="294.28" r="3.45"/><circle cx="231.36" cy="294.45" r="3.45"/><circle cx="232.88" cy="294.62" r="3.45"/><circle cx="234.41" cy="294.79" r="3.45"/><circle cx="235.94" cy="294.96" r="3.45"/><circle cx="237.46" cy="295.13" r="3.45"/><circle cx="238.99" cy="295.29" r="3.45"/><circle cx="240.51" cy="295.46" r="3.45"/><circle cx="242.04" cy="295.62" r="3.45"/><circle cx="243.57" cy="295.78" r="3.45"/><circle cx="245.09" cy="295.95" r="3.45"/><circle cx="246.62" cy="296.11" r="3.45"/><circle cx="248.14" cy="296.27" r="3.45"/><circle cx="249.67" cy="296.44" r="3.45"/><circle cx="251.20" cy="296.60" r="3.45"/><circle cx="252.72" cy="296.76" r="3.45"/><circle cx="254.25" cy="296.91" r="3.45"/><circle cx="255.78" cy="297.07" r="3.45"/><circle cx="257.30" cy="297.22" r="3.45"/><circle cx="258.83" cy="297.37" r="3.45"/><circle cx="260.35" cy="297.52" r="3.45"/><circle cx="261.88" cy="297.67" r="3.45"/><circle cx="263.41" cy="297.81" r="3.45"/><circle cx="264.93" cy="297.95" r="3.45"/><circle cx="266.46" cy="298.09" r="3.45"/><circle cx="267.98" cy="298.23" r="3.45"/><circle cx="269.51" cy="298.36" r="3.45"/><circle cx="271.04" cy="298.49" r="3.45"/><circle cx="272.56" cy="298.61" r="3.45"/><circle cx="274.09" cy="298.74" r="3.45"/><circle cx="275.61" cy="298.86" r="3.45"/><circle cx="277.14" cy="298.98" r="3.45"/><circle cx="278.67" cy="299.10" r="3.45"/><circle cx="280.19" cy="299.21" r="3.45"/><circle cx="281.72" cy="299.33" r="3.45"/><circle cx="283.25" cy="299.44" r="3.45"/><circle cx="284.77" cy="299.55" r="3.45"/><circle cx="286.30" cy="299.66" r="3.45"/><circle cx="287.82" cy="299.77" r="3.45"/><circle cx="289.35" cy="299.88" r="3.45"/><circle cx="290.88" cy="299.98" r="3.45"/><circle cx="292.40" cy="300.09" r="3.45"/><circle cx="293.93" cy="300.19" r="3.45"/><circle cx="295.45" cy="300.30" r="3.45"/><circle cx="296.98" cy="300.40" r="3.45"/><circle cx="298.51" cy="300.50" r="3.45"/><circle cx="300.03" cy="300.60" r="3.45"/><circle cx="301.56" cy="300.70" r="3.45"/><circle cx="303.09" cy="300.80" r="3.45"/><circle cx="304.61" cy="300.90" r="3.45"/><circle cx="306.14" cy="300.99" r="3.45"/><circle cx="307.66" cy="301.09" r="3.45"/><circle cx="309.19" cy="301.18" r="3.45"/><circle cx="310.72" cy="301.28" r="3.45"/><circle cx="312.24" cy="301.37" r="3.45"/><circle cx="313.77" cy="301.46" r="3.45"/><circle cx="315.29" cy="301.55" r="3.45"/><circle cx="316.82" cy="301.64" r="3.45"/><circle cx="318.35" cy="301.73" r="3.45"/><circle cx="319.87" cy="301.82" r="3.45"/><circle cx="321.40" cy="301.91" r="3.45"/><circle cx="322.92" cy="302.00" r="3.45"/><circle cx="324.45" cy="302.08" r="3.45"/><circle cx="325.98" cy="302.17" r="3.45"/><circle cx="327.50" cy="302.26" r="3.45"/><circle cx="329.03" cy="302.35" r="3.45"/><circle cx="330.56" cy="302.43" r="3.45"/><circle cx="332.08" cy="302.52" r="3.45"/><circle cx="333.61" cy="302.61" r="3.45"/><circle cx="335.13" cy="302.70" r="3.45"/><circle cx="336.66" cy="302.78" r="3.45"/><circle cx="338.19" cy="302.87" r="3.45"/><circle cx="339.71" cy="302.96" r="3.45"/><circle cx="341.24" cy="303.05" r="3.45"/><circle cx="342.76" cy="303.14" r="3.45"/><circle cx="344.29" cy="303.22" r="3.45"/><circle cx="345.82" cy="303.31" r="3.45"/><circle cx="347.34" cy="303.39" r="3.45"/><circle cx="348.87" cy="303.47" r="3.45"/><circle cx="350.40" cy="303.55" r="3.45"/><circle cx="351.92" cy="303.63" r="3.45"/><circle cx="353.45" cy="303.71" r="3.45"/><circle cx="354.97" cy="303.78" r="3.45"/><circle cx="356.50" cy="303.85" r="3.45"/><circle cx="358.03" cy="303.92" r="3.45"/><circle cx="359.55" cy="303.98" r="3.45"/><circle cx="361.08" cy="304.04" r="3.45"/><circle cx="362.60" cy="304.10" r="3.45"/><circle cx="364.13" cy="304.16" r="3.45"/><circle cx="365.66" cy="304.22" r="3.45"/><circle cx="367.18" cy="304.28" r="3.45"/><circle cx="368.71" cy="304.34" r="3.45"/><circle cx="370.23" cy="304.39" r="3.45"/><circle cx="371.76" cy="304.45" r="3.45"/><circle cx="373.29" cy="304.50" r="3.45"/><circle cx="374.81" cy="304.55" r="3.45"/><circle cx="376.34" cy="304.61" r="3.45"/><circle cx="377.87" cy="304.66" r="3.45"/><circle cx="379.39" cy="304.70" r="3.45"/><circle cx="380.92" cy="304.75" r="3.45"/><circle cx="382.44" cy="304.80" r="3.45"/><circle cx="383.97" cy="304.85" r="3.45"/><circle cx="385.50" cy="304.89" r="3.45"/><circle cx="387.02" cy="304.94" r="3.45"/><circle cx="388.55" cy="304.98" r="3.45"/><circle cx="390.07" cy="305.02" r="3.45"/><circle cx="391.60" cy="305.06" r="3.45"/><circle cx="393.13" cy="305.11" r="3.45"/><circle cx="394.65" cy="305.15" r="3.45"/><circle cx="396.18" cy="305.18" r="3.45"/><circle cx="397.70" cy="305.22" r="3.45"/><circle cx="399.23" cy="305.26" r="3.45"/><circle cx="400.76" cy="305.30" r="3.45"/><circle cx="402.28" cy="305.33" r="3.45"/><circle cx="403.81" cy="305.37" r="3.45"/><circle cx="405.34" cy="305.40" r="3.45"/></g>
<path d="M58.6 6.6V313.5H669.05" fill="none" stroke="#000" stroke-width="1.35"/><path d="M54.5 313.50H62.7" stroke="#000" stroke-width="1.35"/><path d="M54.5 252.12H62.7" stroke="#000" stroke-width="1.35"/><path d="M54.5 190.74H62.7" stroke="#000" stroke-width="1.35"/><path d="M54.5 129.36H62.7" stroke="#000" stroke-width="1.35"/><path d="M54.5 67.98H62.7" stroke="#000" stroke-width="1.35"/><path d="M54.5 6.60H62.7" stroke="#000" stroke-width="1.35"/><path d="M58.60 309.4V317.8" stroke="#000" stroke-width="1.35"/><path d="M134.91 309.4V317.8" stroke="#000" stroke-width="1.35"/><path d="M211.21 309.4V317.8" stroke="#000" stroke-width="1.35"/><path d="M287.52 309.4V317.8" stroke="#000" stroke-width="1.35"/><path d="M363.82 309.4V317.8" stroke="#000" stroke-width="1.35"/><path d="M440.13 309.4V317.8" stroke="#000" stroke-width="1.35"/><path d="M516.44 309.4V317.8" stroke="#000" stroke-width="1.35"/><path d="M592.74 309.4V317.8" stroke="#000" stroke-width="1.35"/><path d="M669.05 309.4V317.8" stroke="#000" stroke-width="1.35"/><text x="45.6" y="318.30" text-anchor="end" font-family="Liberation Serif, serif" font-weight="bold" font-size="15">0</text><text x="45.6" y="256.92" text-anchor="end" font-family="Liberation Serif, serif" font-weight="bold" font-size="15">0.2</text><text x="45.6" y="195.54" text-anchor="end" font-family="Liberation Serif, serif" font-weight="bold" font-size="15">0.4</text><text x="45.6" y="134.16" text-anchor="end" font-family="Liberation Serif, serif" font-weight="bold" font-size="15">0.6</text><text x="45.6" y="72.78" text-anchor="end" font-family="Liberation Serif, serif" font-weight="bold" font-size="15">0.8</text><text x="45.6" y="11.40" text-anchor="end" font-family="Liberation Serif, serif" font-weight="bold" font-size="15">1</text><text x="58.60" y="336.5" text-anchor="middle" font-family="Liberation Serif, serif" font-weight="bold" font-size="15">0</text><text x="134.91" y="336.5" text-anchor="middle" font-family="Liberation Serif, serif" font-weight="bold" font-size="15">500</text><text x="211.21" y="336.5" text-anchor="middle" font-family="Liberation Serif, serif" font-weight="bold" font-size="15">1000</text><text x="287.52" y="336.5" text-anchor="middle" font-family="Liberation Serif, serif" font-weight="bold" font-size="15">1500</text><text x="363.82" y="336.5" text-anchor="middle" font-family="Liberation Serif, serif" font-weight="bold" font-size="15">2000</text><text x="440.13" y="336.5" text-anchor="middle" font-family="Liberation Serif, serif" font-weight="bold" font-size="15">2500</text><text x="516.44" y="336.5" text-anchor="middle" font-family="Liberation Serif, serif" font-weight="bold" font-size="15">3000</text><text x="592.74" y="336.5" text-anchor="middle" font-family="Liberation Serif, serif" font-weight="bold" font-size="15">3500</text><text x="669.05" y="336.5" text-anchor="middle" font-family="Liberation Serif, serif" font-weight="bold" font-size="15">4000</text><text x="366.5" y="364.6" text-anchor="middle" font-family="Liberation Serif, serif" font-weight="bold" font-size="15">Cycle</text><text transform="translate(13.4 150.5) rotate(-90)" text-anchor="middle" font-family="Liberation Serif, serif" font-weight="bold" font-size="15">Smix (GPa)</text><path d="M240.2 7.9V210.5H623.7" fill="none" stroke="#000" stroke-width="1.55"/><path d="M236 7.90H244.5" stroke="#000" stroke-width="1.55"/><text x="227.4" y="13.20" text-anchor="end" font-family="Liberation Serif, serif" font-weight="bold" font-size="15">25000</text><path d="M236 58.55H244.5" stroke="#000" stroke-width="1.55"/><text x="227.4" y="63.85" text-anchor="end" font-family="Liberation Serif, serif" font-weight="bold" font-size="15">5000</text><path d="M236 109.20H244.5" stroke="#000" stroke-width="1.55"/><text x="227.4" y="114.50" text-anchor="end" font-family="Liberation Serif, serif" font-weight="bold" font-size="15">1000</text><path d="M236 159.85H244.5" stroke="#000" stroke-width="1.55"/><text x="227.4" y="165.15" text-anchor="end" font-family="Liberation Serif, serif" font-weight="bold" font-size="15">200</text><path d="M236 210.50H244.5" stroke="#000" stroke-width="1.55"/><text x="227.4" y="215.80" text-anchor="end" font-family="Liberation Serif, serif" font-weight="bold" font-size="15">40</text><path d="M240.20 206.1V214.8" stroke="#000" stroke-width="1.55"/><text x="240.20" y="234.0" text-anchor="middle" font-family="Liberation Serif, serif" font-weight="bold" font-size="15">200</text><path d="M336.07 206.1V214.8" stroke="#000" stroke-width="1.55"/><text x="336.07" y="234.0" text-anchor="middle" font-family="Liberation Serif, serif" font-weight="bold" font-size="15">300</text><path d="M431.95 206.1V214.8" stroke="#000" stroke-width="1.55"/><text x="431.95" y="234.0" text-anchor="middle" font-family="Liberation Serif, serif" font-weight="bold" font-size="15">400</text><path d="M527.83 206.1V214.8" stroke="#000" stroke-width="1.55"/><text x="527.83" y="234.0" text-anchor="middle" font-family="Liberation Serif, serif" font-weight="bold" font-size="15">500</text><path d="M623.70 206.1V214.8" stroke="#000" stroke-width="1.55"/><text x="623.70" y="234.0" text-anchor="middle" font-family="Liberation Serif, serif" font-weight="bold" font-size="15">600</text><text x="431.8" y="252.6" text-anchor="middle" font-family="Liberation Serif, serif" font-weight="bold" font-size="15">Stress Level (kPa)</text><text transform="translate(168.6 107.4) rotate(-90)" text-anchor="middle" font-family="Liberation Serif, serif" font-weight="bold" font-size="15">N<tspan font-size="11">fNM</tspan> (Cycle)</text>
<path d="M288.20 48.89L291.80 55.09L284.60 55.09Z" fill="#92D050" stroke="#000" stroke-width="1.3"/><path d="M384.00 92.59L387.60 98.79L380.40 98.79Z" fill="#92D050" stroke="#000" stroke-width="1.3"/><path d="M528.20 138.99L531.80 145.19L524.60 145.19Z" fill="#92D050" stroke="#000" stroke-width="1.3"/><rect x="284.70" y="31.80" width="6.8" height="6.8" fill="#FFC000" stroke="#000" stroke-width="1.3"/><rect x="380.60" y="85.20" width="6.8" height="6.8" fill="#FFC000" stroke="#000" stroke-width="1.3"/><rect x="524.60" y="133.80" width="6.6" height="6.6" fill="#FFC000" stroke="#000" stroke-width="1.3"/><path d="M288.30 14.90L291.80 18.40L288.30 21.90L284.80 18.40Z" fill="#FF0000" stroke="#000" stroke-width="1.3"/><path d="M384.00 87.70L387.50 91.20L384.00 94.70L380.50 91.20Z" fill="#FF0000" stroke="#000" stroke-width="1.3"/><path d="M479.80 113.60L483.30 117.10L479.80 120.60L476.30 117.10Z" fill="#FF0000" stroke="#000" stroke-width="1.3"/><path d="M528.20 141.90L531.70 145.40L528.20 148.90L524.70 145.40Z" fill="#FF0000" stroke="#000" stroke-width="1.3"/><circle cx="288.30" cy="27.30" r="3.5" fill="#00B0F0" stroke="#000" stroke-width="1.3"/><circle cx="384.00" cy="77.00" r="3.5" fill="#00B0F0" stroke="#000" stroke-width="1.3"/><circle cx="479.80" cy="131.20" r="3.5" fill="#00B0F0" stroke="#000" stroke-width="1.3"/><circle cx="528.50" cy="148.50" r="3.5" fill="#00B0F0" stroke="#000" stroke-width="1.3"/><path d="M288.2 55.9L528.4 143.6" stroke="#92D050" stroke-width="2.5" stroke-linecap="round"/><path d="M288.2 40.8L528.4 141.3" stroke="#FFC000" stroke-width="2.5" stroke-linecap="round"/><path d="M288.2 26.8L528.4 148.3" stroke="#FF0000" stroke-width="2.5" stroke-linecap="round"/><path d="M288.2 29.3L528.4 151.2" stroke="#00B0F0" stroke-width="2.5" stroke-linecap="round"/>
<path d="M559.50 11.72L563.70 19.32L555.30 19.32Z" fill="#92D050" stroke="#000" stroke-width="1.2"/><rect x="555.70" y="33.70" width="6.6" height="6.6" fill="#FFC000" stroke="#000" stroke-width="1.2"/><path d="M559.90 54.90L564.00 59.00L559.90 63.10L555.80 59.00Z" fill="#FF0000" stroke="#000" stroke-width="1.2"/><circle cx="559.80" cy="80.20" r="3.6" fill="#00B0F0" stroke="#000" stroke-width="1.2"/><text x="567.6" y="20.70" font-family="Liberation Serif, serif" font-weight="bold" font-size="15">No RAP</text><text x="567.6" y="41.90" font-family="Liberation Serif, serif" font-weight="bold" font-size="15">35% RAP</text><text x="567.6" y="63.60" font-family="Liberation Serif, serif" font-weight="bold" font-size="15">50% RAP</text><text x="567.6" y="84.90" font-family="Liberation Serif, serif" font-weight="bold" font-size="15">65% RAP</text>
</svg>
</body></html>
